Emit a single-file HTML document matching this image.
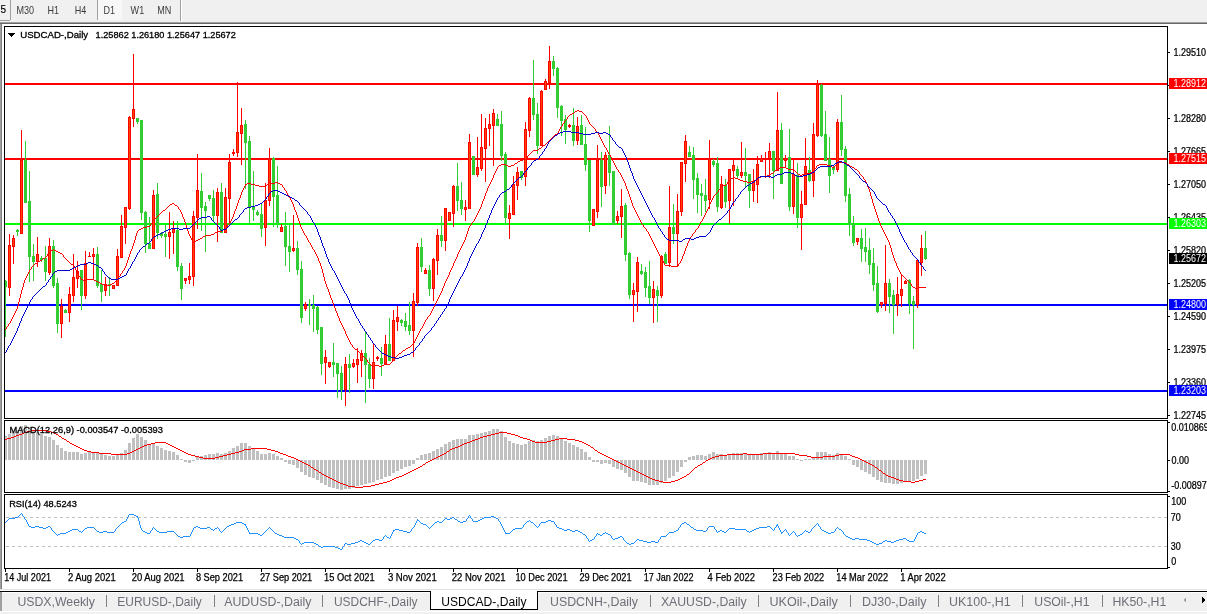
<!DOCTYPE html>
<html><head><meta charset="utf-8"><title>USDCAD-,Daily</title>
<style>html,body{margin:0;padding:0;background:#fff;overflow:hidden}svg{display:block}text{font-family:"Liberation Sans",sans-serif}</style>
</head><body>
<svg width="1207" height="614" viewBox="0 0 1207 614" shape-rendering="crispEdges">
<rect x="0" y="0" width="1207" height="614" fill="#ffffff"/>
<rect x="0" y="0" width="1207" height="22" fill="#f0f0f0"/>
<rect x="0" y="22" width="1207" height="1" fill="#a0a0a0"/>
<rect x="0" y="23" width="1207" height="1" fill="#696969"/>
<rect x="10" y="0" width="1" height="20" fill="#a0a0a0"/>
<rect x="0" y="20" width="10" height="1" fill="#a0a0a0"/>
<rect x="98" y="0" width="24" height="20" fill="#f7f7f7"/>
<rect x="97" y="0" width="1" height="20" fill="#a0a0a0"/>
<rect x="180" y="0" width="1" height="21" fill="#a0a0a0"/>
<rect x="181" y="0" width="1" height="21" fill="#ffffff"/>
<rect x="0" y="24" width="1" height="565" fill="#a0a0a0"/>
<rect x="1" y="24" width="1" height="565" fill="#808080"/>
<rect x="0" y="589" width="1207" height="1" fill="#e3e3e3"/>
<clipPath id="cm"><rect x="5" y="27" width="1162" height="391"/></clipPath>
<clipPath id="cd"><rect x="5" y="421" width="1162" height="71"/></clipPath>
<clipPath id="cr"><rect x="5" y="495" width="1162" height="73"/></clipPath>
<g clip-path="url(#cm)">
<rect x="5" y="83" width="1162" height="2" fill="#ff0000"/>
<rect x="5" y="158" width="1162" height="2" fill="#ff0000"/>
<rect x="5" y="223" width="1162" height="2" fill="#00ff00"/>
<rect x="5" y="304" width="1162" height="2" fill="#0000ff"/>
<rect x="5" y="390" width="1162" height="2" fill="#0000ff"/>
<rect x="5" y="280" width="1" height="57" fill="#32cd32"/>
<rect x="4" y="281" width="3" height="6" fill="#32cd32"/>
<rect x="9" y="234" width="1" height="62" fill="#ff0000"/>
<rect x="8" y="245" width="3" height="43" fill="#ff0000"/>
<rect x="9" y="246" width="1" height="41" fill="#ff4500"/>
<rect x="13" y="235" width="1" height="29" fill="#ff0000"/>
<rect x="12" y="238" width="3" height="9" fill="#ff0000"/>
<rect x="13" y="239" width="1" height="7" fill="#ff4500"/>
<rect x="17" y="229" width="1" height="7" fill="#32cd32"/>
<rect x="16" y="230" width="3" height="2" fill="#32cd32"/>
<rect x="21" y="130" width="1" height="104" fill="#ff0000"/>
<rect x="20" y="160" width="3" height="74" fill="#ff0000"/>
<rect x="21" y="161" width="1" height="72" fill="#ff4500"/>
<rect x="25" y="141" width="1" height="62" fill="#32cd32"/>
<rect x="24" y="160" width="3" height="43" fill="#32cd32"/>
<rect x="29" y="171" width="1" height="111" fill="#32cd32"/>
<rect x="28" y="201" width="3" height="56" fill="#32cd32"/>
<rect x="33" y="244" width="1" height="37" fill="#32cd32"/>
<rect x="32" y="256" width="3" height="6" fill="#32cd32"/>
<rect x="37" y="237" width="1" height="30" fill="#ff0000"/>
<rect x="36" y="254" width="3" height="8" fill="#ff0000"/>
<rect x="37" y="255" width="1" height="6" fill="#ff4500"/>
<rect x="41" y="256" width="1" height="6" fill="#32cd32"/>
<rect x="40" y="258" width="3" height="2" fill="#32cd32"/>
<rect x="45" y="246" width="1" height="35" fill="#32cd32"/>
<rect x="44" y="258" width="3" height="14" fill="#32cd32"/>
<rect x="49" y="238" width="1" height="37" fill="#ff0000"/>
<rect x="48" y="246" width="3" height="27" fill="#ff0000"/>
<rect x="49" y="247" width="1" height="25" fill="#ff4500"/>
<rect x="53" y="240" width="1" height="48" fill="#32cd32"/>
<rect x="52" y="246" width="3" height="40" fill="#32cd32"/>
<rect x="57" y="278" width="1" height="55" fill="#32cd32"/>
<rect x="56" y="283" width="3" height="41" fill="#32cd32"/>
<rect x="61" y="299" width="1" height="39" fill="#ff0000"/>
<rect x="60" y="306" width="3" height="18" fill="#ff0000"/>
<rect x="61" y="307" width="1" height="16" fill="#ff4500"/>
<rect x="65" y="309" width="1" height="4" fill="#32cd32"/>
<rect x="64" y="310" width="3" height="3" fill="#32cd32"/>
<rect x="69" y="287" width="1" height="35" fill="#ff0000"/>
<rect x="68" y="294" width="3" height="19" fill="#ff0000"/>
<rect x="69" y="295" width="1" height="17" fill="#ff4500"/>
<rect x="73" y="254" width="1" height="48" fill="#ff0000"/>
<rect x="72" y="277" width="3" height="19" fill="#ff0000"/>
<rect x="73" y="278" width="1" height="17" fill="#ff4500"/>
<rect x="77" y="261" width="1" height="27" fill="#ff0000"/>
<rect x="76" y="271" width="3" height="8" fill="#ff0000"/>
<rect x="77" y="272" width="1" height="6" fill="#ff4500"/>
<rect x="81" y="270" width="1" height="40" fill="#32cd32"/>
<rect x="80" y="270" width="3" height="26" fill="#32cd32"/>
<rect x="85" y="251" width="1" height="48" fill="#ff0000"/>
<rect x="84" y="263" width="3" height="33" fill="#ff0000"/>
<rect x="85" y="264" width="1" height="31" fill="#ff4500"/>
<rect x="89" y="252" width="1" height="5" fill="#ff0000"/>
<rect x="88" y="256" width="3" height="1" fill="#ff0000"/>
<rect x="93" y="248" width="1" height="32" fill="#ff0000"/>
<rect x="92" y="254" width="3" height="3" fill="#ff0000"/>
<rect x="93" y="255" width="1" height="1" fill="#ff4500"/>
<rect x="97" y="247" width="1" height="41" fill="#32cd32"/>
<rect x="96" y="254" width="3" height="32" fill="#32cd32"/>
<rect x="101" y="270" width="1" height="32" fill="#32cd32"/>
<rect x="100" y="284" width="3" height="8" fill="#32cd32"/>
<rect x="105" y="277" width="1" height="19" fill="#ff0000"/>
<rect x="104" y="284" width="3" height="7" fill="#ff0000"/>
<rect x="105" y="285" width="1" height="5" fill="#ff4500"/>
<rect x="109" y="277" width="1" height="19" fill="#32cd32"/>
<rect x="108" y="284" width="3" height="2" fill="#32cd32"/>
<rect x="113" y="285" width="1" height="4" fill="#ff0000"/>
<rect x="112" y="285" width="3" height="4" fill="#ff0000"/>
<rect x="113" y="286" width="1" height="2" fill="#ff4500"/>
<rect x="117" y="249" width="1" height="37" fill="#ff0000"/>
<rect x="116" y="256" width="3" height="30" fill="#ff0000"/>
<rect x="117" y="257" width="1" height="28" fill="#ff4500"/>
<rect x="121" y="215" width="1" height="43" fill="#ff0000"/>
<rect x="120" y="226" width="3" height="32" fill="#ff0000"/>
<rect x="121" y="227" width="1" height="30" fill="#ff4500"/>
<rect x="125" y="207" width="1" height="37" fill="#ff0000"/>
<rect x="124" y="207" width="3" height="21" fill="#ff0000"/>
<rect x="125" y="208" width="1" height="19" fill="#ff4500"/>
<rect x="129" y="116" width="1" height="94" fill="#ff0000"/>
<rect x="128" y="117" width="3" height="92" fill="#ff0000"/>
<rect x="129" y="118" width="1" height="90" fill="#ff4500"/>
<rect x="133" y="54" width="1" height="73" fill="#ff0000"/>
<rect x="132" y="109" width="3" height="10" fill="#ff0000"/>
<rect x="133" y="110" width="1" height="8" fill="#ff4500"/>
<rect x="137" y="118" width="1" height="6" fill="#32cd32"/>
<rect x="136" y="118" width="3" height="4" fill="#32cd32"/>
<rect x="141" y="120" width="1" height="100" fill="#32cd32"/>
<rect x="140" y="120" width="3" height="93" fill="#32cd32"/>
<rect x="145" y="211" width="1" height="42" fill="#32cd32"/>
<rect x="144" y="212" width="3" height="32" fill="#32cd32"/>
<rect x="149" y="217" width="1" height="32" fill="#32cd32"/>
<rect x="148" y="243" width="3" height="6" fill="#32cd32"/>
<rect x="153" y="190" width="1" height="59" fill="#ff0000"/>
<rect x="152" y="195" width="3" height="54" fill="#ff0000"/>
<rect x="153" y="196" width="1" height="52" fill="#ff4500"/>
<rect x="157" y="183" width="1" height="56" fill="#32cd32"/>
<rect x="156" y="194" width="3" height="39" fill="#32cd32"/>
<rect x="161" y="232" width="1" height="6" fill="#32cd32"/>
<rect x="160" y="233" width="3" height="3" fill="#32cd32"/>
<rect x="165" y="224" width="1" height="33" fill="#32cd32"/>
<rect x="164" y="234" width="3" height="3" fill="#32cd32"/>
<rect x="169" y="212" width="1" height="47" fill="#ff0000"/>
<rect x="168" y="232" width="3" height="5" fill="#ff0000"/>
<rect x="169" y="233" width="1" height="3" fill="#ff4500"/>
<rect x="173" y="221" width="1" height="33" fill="#ff0000"/>
<rect x="172" y="229" width="3" height="4" fill="#ff0000"/>
<rect x="173" y="230" width="1" height="2" fill="#ff4500"/>
<rect x="177" y="221" width="1" height="50" fill="#32cd32"/>
<rect x="176" y="230" width="3" height="37" fill="#32cd32"/>
<rect x="181" y="263" width="1" height="37" fill="#32cd32"/>
<rect x="180" y="266" width="3" height="23" fill="#32cd32"/>
<rect x="185" y="278" width="1" height="6" fill="#ff0000"/>
<rect x="184" y="278" width="3" height="3" fill="#ff0000"/>
<rect x="185" y="279" width="1" height="1" fill="#ff4500"/>
<rect x="189" y="263" width="1" height="21" fill="#ff0000"/>
<rect x="188" y="276" width="3" height="4" fill="#ff0000"/>
<rect x="189" y="277" width="1" height="2" fill="#ff4500"/>
<rect x="193" y="211" width="1" height="75" fill="#ff0000"/>
<rect x="192" y="216" width="3" height="61" fill="#ff0000"/>
<rect x="193" y="217" width="1" height="59" fill="#ff4500"/>
<rect x="197" y="154" width="1" height="75" fill="#ff0000"/>
<rect x="196" y="190" width="3" height="28" fill="#ff0000"/>
<rect x="197" y="191" width="1" height="26" fill="#ff4500"/>
<rect x="201" y="173" width="1" height="58" fill="#32cd32"/>
<rect x="200" y="191" width="3" height="17" fill="#32cd32"/>
<rect x="205" y="202" width="1" height="50" fill="#32cd32"/>
<rect x="204" y="206" width="3" height="5" fill="#32cd32"/>
<rect x="209" y="195" width="1" height="6" fill="#32cd32"/>
<rect x="208" y="195" width="3" height="4" fill="#32cd32"/>
<rect x="213" y="190" width="1" height="32" fill="#32cd32"/>
<rect x="212" y="198" width="3" height="18" fill="#32cd32"/>
<rect x="217" y="188" width="1" height="54" fill="#ff0000"/>
<rect x="216" y="192" width="3" height="24" fill="#ff0000"/>
<rect x="217" y="193" width="1" height="22" fill="#ff4500"/>
<rect x="221" y="183" width="1" height="50" fill="#32cd32"/>
<rect x="220" y="192" width="3" height="41" fill="#32cd32"/>
<rect x="225" y="188" width="1" height="45" fill="#ff0000"/>
<rect x="224" y="197" width="3" height="36" fill="#ff0000"/>
<rect x="225" y="198" width="1" height="34" fill="#ff4500"/>
<rect x="229" y="154" width="1" height="70" fill="#ff0000"/>
<rect x="228" y="162" width="3" height="37" fill="#ff0000"/>
<rect x="229" y="163" width="1" height="35" fill="#ff4500"/>
<rect x="233" y="149" width="1" height="7" fill="#ff0000"/>
<rect x="232" y="152" width="3" height="2" fill="#ff0000"/>
<rect x="237" y="82" width="1" height="75" fill="#ff0000"/>
<rect x="236" y="132" width="3" height="21" fill="#ff0000"/>
<rect x="237" y="133" width="1" height="19" fill="#ff4500"/>
<rect x="241" y="108" width="1" height="57" fill="#ff0000"/>
<rect x="240" y="125" width="3" height="9" fill="#ff0000"/>
<rect x="241" y="126" width="1" height="7" fill="#ff4500"/>
<rect x="245" y="120" width="1" height="69" fill="#32cd32"/>
<rect x="244" y="124" width="3" height="19" fill="#32cd32"/>
<rect x="249" y="136" width="1" height="88" fill="#32cd32"/>
<rect x="248" y="141" width="3" height="67" fill="#32cd32"/>
<rect x="253" y="171" width="1" height="50" fill="#32cd32"/>
<rect x="252" y="206" width="3" height="4" fill="#32cd32"/>
<rect x="257" y="210" width="1" height="6" fill="#32cd32"/>
<rect x="256" y="212" width="3" height="3" fill="#32cd32"/>
<rect x="261" y="203" width="1" height="34" fill="#32cd32"/>
<rect x="260" y="214" width="3" height="15" fill="#32cd32"/>
<rect x="265" y="183" width="1" height="63" fill="#ff0000"/>
<rect x="264" y="200" width="3" height="28" fill="#ff0000"/>
<rect x="265" y="201" width="1" height="26" fill="#ff4500"/>
<rect x="269" y="148" width="1" height="58" fill="#ff0000"/>
<rect x="268" y="159" width="3" height="42" fill="#ff0000"/>
<rect x="269" y="160" width="1" height="40" fill="#ff4500"/>
<rect x="273" y="157" width="1" height="70" fill="#32cd32"/>
<rect x="272" y="158" width="3" height="39" fill="#32cd32"/>
<rect x="277" y="166" width="1" height="62" fill="#32cd32"/>
<rect x="276" y="195" width="3" height="28" fill="#32cd32"/>
<rect x="281" y="224" width="1" height="8" fill="#ff0000"/>
<rect x="280" y="227" width="3" height="5" fill="#ff0000"/>
<rect x="281" y="228" width="1" height="3" fill="#ff4500"/>
<rect x="285" y="212" width="1" height="54" fill="#32cd32"/>
<rect x="284" y="226" width="3" height="21" fill="#32cd32"/>
<rect x="289" y="225" width="1" height="47" fill="#32cd32"/>
<rect x="288" y="246" width="3" height="6" fill="#32cd32"/>
<rect x="293" y="215" width="1" height="37" fill="#ff0000"/>
<rect x="292" y="248" width="3" height="3" fill="#ff0000"/>
<rect x="293" y="249" width="1" height="1" fill="#ff4500"/>
<rect x="297" y="241" width="1" height="34" fill="#32cd32"/>
<rect x="296" y="248" width="3" height="22" fill="#32cd32"/>
<rect x="301" y="261" width="1" height="62" fill="#32cd32"/>
<rect x="300" y="269" width="3" height="49" fill="#32cd32"/>
<rect x="305" y="302" width="1" height="9" fill="#ff0000"/>
<rect x="304" y="304" width="3" height="5" fill="#ff0000"/>
<rect x="305" y="305" width="1" height="3" fill="#ff4500"/>
<rect x="309" y="299" width="1" height="26" fill="#32cd32"/>
<rect x="308" y="304" width="3" height="2" fill="#32cd32"/>
<rect x="313" y="295" width="1" height="37" fill="#32cd32"/>
<rect x="312" y="305" width="3" height="4" fill="#32cd32"/>
<rect x="317" y="306" width="1" height="28" fill="#32cd32"/>
<rect x="316" y="307" width="3" height="23" fill="#32cd32"/>
<rect x="321" y="327" width="1" height="48" fill="#32cd32"/>
<rect x="320" y="327" width="3" height="37" fill="#32cd32"/>
<rect x="325" y="350" width="1" height="34" fill="#ff0000"/>
<rect x="324" y="357" width="3" height="6" fill="#ff0000"/>
<rect x="325" y="358" width="1" height="4" fill="#ff4500"/>
<rect x="329" y="362" width="1" height="6" fill="#ff0000"/>
<rect x="328" y="362" width="3" height="5" fill="#ff0000"/>
<rect x="329" y="363" width="1" height="3" fill="#ff4500"/>
<rect x="333" y="343" width="1" height="34" fill="#32cd32"/>
<rect x="332" y="362" width="3" height="3" fill="#32cd32"/>
<rect x="337" y="363" width="1" height="35" fill="#32cd32"/>
<rect x="336" y="363" width="3" height="11" fill="#32cd32"/>
<rect x="341" y="366" width="1" height="34" fill="#32cd32"/>
<rect x="340" y="373" width="3" height="17" fill="#32cd32"/>
<rect x="345" y="357" width="1" height="49" fill="#ff0000"/>
<rect x="344" y="364" width="3" height="26" fill="#ff0000"/>
<rect x="345" y="365" width="1" height="24" fill="#ff4500"/>
<rect x="349" y="354" width="1" height="39" fill="#32cd32"/>
<rect x="348" y="364" width="3" height="4" fill="#32cd32"/>
<rect x="353" y="359" width="1" height="9" fill="#ff0000"/>
<rect x="352" y="363" width="3" height="4" fill="#ff0000"/>
<rect x="353" y="364" width="1" height="2" fill="#ff4500"/>
<rect x="357" y="348" width="1" height="35" fill="#ff0000"/>
<rect x="356" y="359" width="3" height="6" fill="#ff0000"/>
<rect x="357" y="360" width="1" height="4" fill="#ff4500"/>
<rect x="361" y="350" width="1" height="27" fill="#ff0000"/>
<rect x="360" y="353" width="3" height="8" fill="#ff0000"/>
<rect x="361" y="354" width="1" height="6" fill="#ff4500"/>
<rect x="365" y="331" width="1" height="72" fill="#32cd32"/>
<rect x="364" y="353" width="3" height="12" fill="#32cd32"/>
<rect x="369" y="358" width="1" height="30" fill="#32cd32"/>
<rect x="368" y="364" width="3" height="15" fill="#32cd32"/>
<rect x="373" y="344" width="1" height="45" fill="#ff0000"/>
<rect x="372" y="362" width="3" height="17" fill="#ff0000"/>
<rect x="373" y="363" width="1" height="15" fill="#ff4500"/>
<rect x="377" y="356" width="1" height="5" fill="#ff0000"/>
<rect x="376" y="357" width="3" height="2" fill="#ff0000"/>
<rect x="381" y="347" width="1" height="29" fill="#32cd32"/>
<rect x="380" y="358" width="3" height="6" fill="#32cd32"/>
<rect x="385" y="335" width="1" height="30" fill="#ff0000"/>
<rect x="384" y="344" width="3" height="20" fill="#ff0000"/>
<rect x="385" y="345" width="1" height="18" fill="#ff4500"/>
<rect x="389" y="318" width="1" height="43" fill="#32cd32"/>
<rect x="388" y="344" width="3" height="17" fill="#32cd32"/>
<rect x="393" y="310" width="1" height="51" fill="#ff0000"/>
<rect x="392" y="320" width="3" height="41" fill="#ff0000"/>
<rect x="393" y="321" width="1" height="39" fill="#ff4500"/>
<rect x="397" y="306" width="1" height="25" fill="#ff0000"/>
<rect x="396" y="317" width="3" height="5" fill="#ff0000"/>
<rect x="397" y="318" width="1" height="3" fill="#ff4500"/>
<rect x="401" y="319" width="1" height="7" fill="#32cd32"/>
<rect x="400" y="320" width="3" height="3" fill="#32cd32"/>
<rect x="405" y="313" width="1" height="18" fill="#32cd32"/>
<rect x="404" y="321" width="3" height="6" fill="#32cd32"/>
<rect x="409" y="302" width="1" height="33" fill="#32cd32"/>
<rect x="408" y="325" width="3" height="6" fill="#32cd32"/>
<rect x="413" y="293" width="1" height="64" fill="#ff0000"/>
<rect x="412" y="301" width="3" height="30" fill="#ff0000"/>
<rect x="413" y="302" width="1" height="28" fill="#ff4500"/>
<rect x="417" y="243" width="1" height="63" fill="#ff0000"/>
<rect x="416" y="247" width="3" height="56" fill="#ff0000"/>
<rect x="417" y="248" width="1" height="54" fill="#ff4500"/>
<rect x="421" y="238" width="1" height="34" fill="#32cd32"/>
<rect x="420" y="247" width="3" height="20" fill="#32cd32"/>
<rect x="425" y="268" width="1" height="6" fill="#ff0000"/>
<rect x="424" y="270" width="3" height="4" fill="#ff0000"/>
<rect x="425" y="271" width="1" height="2" fill="#ff4500"/>
<rect x="429" y="265" width="1" height="31" fill="#32cd32"/>
<rect x="428" y="270" width="3" height="19" fill="#32cd32"/>
<rect x="433" y="258" width="1" height="43" fill="#ff0000"/>
<rect x="432" y="259" width="3" height="30" fill="#ff0000"/>
<rect x="433" y="260" width="1" height="28" fill="#ff4500"/>
<rect x="437" y="229" width="1" height="46" fill="#ff0000"/>
<rect x="436" y="235" width="3" height="26" fill="#ff0000"/>
<rect x="437" y="236" width="1" height="24" fill="#ff4500"/>
<rect x="441" y="216" width="1" height="31" fill="#32cd32"/>
<rect x="440" y="235" width="3" height="6" fill="#32cd32"/>
<rect x="445" y="208" width="1" height="43" fill="#ff0000"/>
<rect x="444" y="208" width="3" height="33" fill="#ff0000"/>
<rect x="445" y="209" width="1" height="31" fill="#ff4500"/>
<rect x="449" y="212" width="1" height="9" fill="#ff0000"/>
<rect x="448" y="212" width="3" height="9" fill="#ff0000"/>
<rect x="449" y="213" width="1" height="7" fill="#ff4500"/>
<rect x="453" y="185" width="1" height="42" fill="#ff0000"/>
<rect x="452" y="186" width="3" height="28" fill="#ff0000"/>
<rect x="453" y="187" width="1" height="26" fill="#ff4500"/>
<rect x="457" y="163" width="1" height="48" fill="#32cd32"/>
<rect x="456" y="186" width="3" height="15" fill="#32cd32"/>
<rect x="461" y="182" width="1" height="33" fill="#32cd32"/>
<rect x="460" y="200" width="3" height="9" fill="#32cd32"/>
<rect x="465" y="200" width="1" height="21" fill="#ff0000"/>
<rect x="464" y="207" width="3" height="3" fill="#ff0000"/>
<rect x="465" y="208" width="1" height="1" fill="#ff4500"/>
<rect x="469" y="134" width="1" height="75" fill="#ff0000"/>
<rect x="468" y="142" width="3" height="67" fill="#ff0000"/>
<rect x="469" y="143" width="1" height="65" fill="#ff4500"/>
<rect x="473" y="156" width="1" height="19" fill="#32cd32"/>
<rect x="472" y="156" width="3" height="19" fill="#32cd32"/>
<rect x="477" y="137" width="1" height="40" fill="#ff0000"/>
<rect x="476" y="167" width="3" height="8" fill="#ff0000"/>
<rect x="477" y="168" width="1" height="6" fill="#ff4500"/>
<rect x="481" y="114" width="1" height="57" fill="#ff0000"/>
<rect x="480" y="147" width="3" height="22" fill="#ff0000"/>
<rect x="481" y="148" width="1" height="20" fill="#ff4500"/>
<rect x="485" y="118" width="1" height="64" fill="#ff0000"/>
<rect x="484" y="128" width="3" height="21" fill="#ff0000"/>
<rect x="485" y="129" width="1" height="19" fill="#ff4500"/>
<rect x="489" y="114" width="1" height="32" fill="#ff0000"/>
<rect x="488" y="124" width="3" height="5" fill="#ff0000"/>
<rect x="489" y="125" width="1" height="3" fill="#ff4500"/>
<rect x="493" y="109" width="1" height="57" fill="#ff0000"/>
<rect x="492" y="113" width="3" height="13" fill="#ff0000"/>
<rect x="493" y="114" width="1" height="11" fill="#ff4500"/>
<rect x="497" y="114" width="1" height="12" fill="#32cd32"/>
<rect x="496" y="119" width="3" height="7" fill="#32cd32"/>
<rect x="501" y="111" width="1" height="50" fill="#32cd32"/>
<rect x="500" y="124" width="3" height="32" fill="#32cd32"/>
<rect x="505" y="152" width="1" height="72" fill="#32cd32"/>
<rect x="504" y="154" width="3" height="64" fill="#32cd32"/>
<rect x="509" y="205" width="1" height="34" fill="#ff0000"/>
<rect x="508" y="213" width="3" height="6" fill="#ff0000"/>
<rect x="509" y="214" width="1" height="4" fill="#ff4500"/>
<rect x="513" y="176" width="1" height="39" fill="#ff0000"/>
<rect x="512" y="184" width="3" height="31" fill="#ff0000"/>
<rect x="513" y="185" width="1" height="29" fill="#ff4500"/>
<rect x="517" y="167" width="1" height="33" fill="#ff0000"/>
<rect x="516" y="172" width="3" height="14" fill="#ff0000"/>
<rect x="517" y="173" width="1" height="12" fill="#ff4500"/>
<rect x="521" y="171" width="1" height="9" fill="#32cd32"/>
<rect x="520" y="171" width="3" height="7" fill="#32cd32"/>
<rect x="525" y="122" width="1" height="64" fill="#ff0000"/>
<rect x="524" y="129" width="3" height="48" fill="#ff0000"/>
<rect x="525" y="130" width="1" height="46" fill="#ff4500"/>
<rect x="529" y="97" width="1" height="40" fill="#ff0000"/>
<rect x="528" y="98" width="3" height="33" fill="#ff0000"/>
<rect x="529" y="99" width="1" height="31" fill="#ff4500"/>
<rect x="533" y="60" width="1" height="60" fill="#32cd32"/>
<rect x="532" y="98" width="3" height="17" fill="#32cd32"/>
<rect x="537" y="103" width="1" height="51" fill="#32cd32"/>
<rect x="536" y="114" width="3" height="32" fill="#32cd32"/>
<rect x="541" y="90" width="1" height="56" fill="#ff0000"/>
<rect x="540" y="91" width="3" height="55" fill="#ff0000"/>
<rect x="541" y="92" width="1" height="53" fill="#ff4500"/>
<rect x="545" y="79" width="1" height="11" fill="#ff0000"/>
<rect x="544" y="81" width="3" height="9" fill="#ff0000"/>
<rect x="545" y="82" width="1" height="7" fill="#ff4500"/>
<rect x="549" y="46" width="1" height="43" fill="#ff0000"/>
<rect x="548" y="61" width="3" height="22" fill="#ff0000"/>
<rect x="549" y="62" width="1" height="20" fill="#ff4500"/>
<rect x="553" y="56" width="1" height="20" fill="#32cd32"/>
<rect x="552" y="61" width="3" height="8" fill="#32cd32"/>
<rect x="557" y="67" width="1" height="51" fill="#32cd32"/>
<rect x="556" y="68" width="3" height="40" fill="#32cd32"/>
<rect x="561" y="105" width="1" height="31" fill="#32cd32"/>
<rect x="560" y="106" width="3" height="15" fill="#32cd32"/>
<rect x="565" y="115" width="1" height="29" fill="#32cd32"/>
<rect x="564" y="119" width="3" height="11" fill="#32cd32"/>
<rect x="569" y="124" width="1" height="4" fill="#ff0000"/>
<rect x="568" y="125" width="3" height="2" fill="#ff0000"/>
<rect x="573" y="108" width="1" height="38" fill="#32cd32"/>
<rect x="572" y="125" width="3" height="16" fill="#32cd32"/>
<rect x="577" y="117" width="1" height="28" fill="#ff0000"/>
<rect x="576" y="126" width="3" height="15" fill="#ff0000"/>
<rect x="577" y="127" width="1" height="13" fill="#ff4500"/>
<rect x="581" y="115" width="1" height="30" fill="#32cd32"/>
<rect x="580" y="125" width="3" height="20" fill="#32cd32"/>
<rect x="585" y="127" width="1" height="44" fill="#32cd32"/>
<rect x="584" y="144" width="3" height="21" fill="#32cd32"/>
<rect x="589" y="160" width="1" height="72" fill="#32cd32"/>
<rect x="588" y="160" width="3" height="61" fill="#32cd32"/>
<rect x="593" y="209" width="1" height="17" fill="#ff0000"/>
<rect x="592" y="209" width="3" height="17" fill="#ff0000"/>
<rect x="593" y="210" width="1" height="15" fill="#ff4500"/>
<rect x="597" y="145" width="1" height="73" fill="#ff0000"/>
<rect x="596" y="160" width="3" height="52" fill="#ff0000"/>
<rect x="597" y="161" width="1" height="50" fill="#ff4500"/>
<rect x="601" y="152" width="1" height="55" fill="#32cd32"/>
<rect x="600" y="160" width="3" height="27" fill="#32cd32"/>
<rect x="605" y="152" width="1" height="42" fill="#ff0000"/>
<rect x="604" y="155" width="3" height="31" fill="#ff0000"/>
<rect x="605" y="156" width="1" height="29" fill="#ff4500"/>
<rect x="609" y="126" width="1" height="60" fill="#32cd32"/>
<rect x="608" y="155" width="3" height="18" fill="#32cd32"/>
<rect x="613" y="171" width="1" height="54" fill="#32cd32"/>
<rect x="612" y="171" width="3" height="54" fill="#32cd32"/>
<rect x="617" y="211" width="1" height="13" fill="#ff0000"/>
<rect x="616" y="216" width="3" height="5" fill="#ff0000"/>
<rect x="617" y="217" width="1" height="3" fill="#ff4500"/>
<rect x="621" y="189" width="1" height="49" fill="#ff0000"/>
<rect x="620" y="206" width="3" height="11" fill="#ff0000"/>
<rect x="621" y="207" width="1" height="9" fill="#ff4500"/>
<rect x="625" y="203" width="1" height="58" fill="#32cd32"/>
<rect x="624" y="205" width="3" height="50" fill="#32cd32"/>
<rect x="629" y="252" width="1" height="47" fill="#32cd32"/>
<rect x="628" y="253" width="3" height="42" fill="#32cd32"/>
<rect x="633" y="283" width="1" height="39" fill="#ff0000"/>
<rect x="632" y="290" width="3" height="5" fill="#ff0000"/>
<rect x="633" y="291" width="1" height="3" fill="#ff4500"/>
<rect x="637" y="257" width="1" height="55" fill="#ff0000"/>
<rect x="636" y="262" width="3" height="30" fill="#ff0000"/>
<rect x="637" y="263" width="1" height="28" fill="#ff4500"/>
<rect x="641" y="264" width="1" height="11" fill="#32cd32"/>
<rect x="640" y="271" width="3" height="3" fill="#32cd32"/>
<rect x="645" y="267" width="1" height="30" fill="#32cd32"/>
<rect x="644" y="272" width="3" height="16" fill="#32cd32"/>
<rect x="649" y="261" width="1" height="43" fill="#32cd32"/>
<rect x="648" y="286" width="3" height="12" fill="#32cd32"/>
<rect x="653" y="281" width="1" height="42" fill="#ff0000"/>
<rect x="652" y="289" width="3" height="9" fill="#ff0000"/>
<rect x="653" y="290" width="1" height="7" fill="#ff4500"/>
<rect x="657" y="286" width="1" height="36" fill="#32cd32"/>
<rect x="656" y="290" width="3" height="6" fill="#32cd32"/>
<rect x="661" y="255" width="1" height="43" fill="#ff0000"/>
<rect x="660" y="256" width="3" height="40" fill="#ff0000"/>
<rect x="661" y="257" width="1" height="38" fill="#ff4500"/>
<rect x="665" y="252" width="1" height="12" fill="#32cd32"/>
<rect x="664" y="254" width="3" height="10" fill="#32cd32"/>
<rect x="669" y="186" width="1" height="81" fill="#ff0000"/>
<rect x="668" y="227" width="3" height="36" fill="#ff0000"/>
<rect x="669" y="228" width="1" height="34" fill="#ff4500"/>
<rect x="673" y="204" width="1" height="40" fill="#32cd32"/>
<rect x="672" y="227" width="3" height="7" fill="#32cd32"/>
<rect x="677" y="194" width="1" height="73" fill="#ff0000"/>
<rect x="676" y="211" width="3" height="23" fill="#ff0000"/>
<rect x="677" y="212" width="1" height="21" fill="#ff4500"/>
<rect x="681" y="162" width="1" height="54" fill="#ff0000"/>
<rect x="680" y="162" width="3" height="50" fill="#ff0000"/>
<rect x="681" y="163" width="1" height="48" fill="#ff4500"/>
<rect x="685" y="135" width="1" height="47" fill="#ff0000"/>
<rect x="684" y="141" width="3" height="23" fill="#ff0000"/>
<rect x="685" y="142" width="1" height="21" fill="#ff4500"/>
<rect x="689" y="146" width="1" height="11" fill="#32cd32"/>
<rect x="688" y="152" width="3" height="5" fill="#32cd32"/>
<rect x="693" y="147" width="1" height="52" fill="#32cd32"/>
<rect x="692" y="155" width="3" height="25" fill="#32cd32"/>
<rect x="697" y="173" width="1" height="40" fill="#32cd32"/>
<rect x="696" y="178" width="3" height="17" fill="#32cd32"/>
<rect x="701" y="184" width="1" height="32" fill="#32cd32"/>
<rect x="700" y="193" width="3" height="3" fill="#32cd32"/>
<rect x="705" y="179" width="1" height="33" fill="#32cd32"/>
<rect x="704" y="195" width="3" height="6" fill="#32cd32"/>
<rect x="709" y="140" width="1" height="69" fill="#ff0000"/>
<rect x="708" y="159" width="3" height="41" fill="#ff0000"/>
<rect x="709" y="160" width="1" height="39" fill="#ff4500"/>
<rect x="713" y="159" width="1" height="8" fill="#32cd32"/>
<rect x="712" y="161" width="3" height="4" fill="#32cd32"/>
<rect x="717" y="157" width="1" height="55" fill="#32cd32"/>
<rect x="716" y="163" width="3" height="44" fill="#32cd32"/>
<rect x="721" y="176" width="1" height="33" fill="#ff0000"/>
<rect x="720" y="184" width="3" height="24" fill="#ff0000"/>
<rect x="721" y="185" width="1" height="22" fill="#ff4500"/>
<rect x="725" y="179" width="1" height="29" fill="#32cd32"/>
<rect x="724" y="185" width="3" height="17" fill="#32cd32"/>
<rect x="729" y="169" width="1" height="55" fill="#ff0000"/>
<rect x="728" y="169" width="3" height="32" fill="#ff0000"/>
<rect x="729" y="170" width="1" height="30" fill="#ff4500"/>
<rect x="733" y="160" width="1" height="46" fill="#ff0000"/>
<rect x="732" y="165" width="3" height="6" fill="#ff0000"/>
<rect x="733" y="166" width="1" height="4" fill="#ff4500"/>
<rect x="737" y="166" width="1" height="12" fill="#32cd32"/>
<rect x="736" y="169" width="3" height="7" fill="#32cd32"/>
<rect x="741" y="142" width="1" height="36" fill="#ff0000"/>
<rect x="740" y="172" width="3" height="4" fill="#ff0000"/>
<rect x="741" y="173" width="1" height="2" fill="#ff4500"/>
<rect x="745" y="148" width="1" height="39" fill="#32cd32"/>
<rect x="744" y="172" width="3" height="4" fill="#32cd32"/>
<rect x="749" y="174" width="1" height="34" fill="#32cd32"/>
<rect x="748" y="174" width="3" height="17" fill="#32cd32"/>
<rect x="753" y="169" width="1" height="33" fill="#ff0000"/>
<rect x="752" y="182" width="3" height="9" fill="#ff0000"/>
<rect x="753" y="183" width="1" height="7" fill="#ff4500"/>
<rect x="757" y="156" width="1" height="47" fill="#ff0000"/>
<rect x="756" y="164" width="3" height="21" fill="#ff0000"/>
<rect x="757" y="165" width="1" height="19" fill="#ff4500"/>
<rect x="761" y="155" width="1" height="7" fill="#ff0000"/>
<rect x="760" y="158" width="3" height="4" fill="#ff0000"/>
<rect x="761" y="159" width="1" height="2" fill="#ff4500"/>
<rect x="765" y="152" width="1" height="26" fill="#ff0000"/>
<rect x="764" y="158" width="3" height="2" fill="#ff0000"/>
<rect x="769" y="143" width="1" height="35" fill="#ff0000"/>
<rect x="768" y="151" width="3" height="8" fill="#ff0000"/>
<rect x="769" y="152" width="1" height="6" fill="#ff4500"/>
<rect x="773" y="151" width="1" height="48" fill="#32cd32"/>
<rect x="772" y="151" width="3" height="20" fill="#32cd32"/>
<rect x="777" y="92" width="1" height="79" fill="#ff0000"/>
<rect x="776" y="130" width="3" height="41" fill="#ff0000"/>
<rect x="777" y="131" width="1" height="39" fill="#ff4500"/>
<rect x="781" y="123" width="1" height="61" fill="#32cd32"/>
<rect x="780" y="130" width="3" height="54" fill="#32cd32"/>
<rect x="785" y="155" width="1" height="13" fill="#ff0000"/>
<rect x="784" y="158" width="3" height="3" fill="#ff0000"/>
<rect x="785" y="159" width="1" height="1" fill="#ff4500"/>
<rect x="789" y="129" width="1" height="82" fill="#32cd32"/>
<rect x="788" y="157" width="3" height="50" fill="#32cd32"/>
<rect x="793" y="159" width="1" height="55" fill="#ff0000"/>
<rect x="792" y="174" width="3" height="33" fill="#ff0000"/>
<rect x="793" y="175" width="1" height="31" fill="#ff4500"/>
<rect x="797" y="163" width="1" height="65" fill="#32cd32"/>
<rect x="796" y="175" width="3" height="43" fill="#32cd32"/>
<rect x="801" y="191" width="1" height="59" fill="#ff0000"/>
<rect x="800" y="204" width="3" height="14" fill="#ff0000"/>
<rect x="801" y="205" width="1" height="12" fill="#ff4500"/>
<rect x="805" y="138" width="1" height="67" fill="#ff0000"/>
<rect x="804" y="166" width="3" height="39" fill="#ff0000"/>
<rect x="805" y="167" width="1" height="37" fill="#ff4500"/>
<rect x="809" y="157" width="1" height="25" fill="#32cd32"/>
<rect x="808" y="170" width="3" height="11" fill="#32cd32"/>
<rect x="813" y="123" width="1" height="74" fill="#ff0000"/>
<rect x="812" y="134" width="3" height="47" fill="#ff0000"/>
<rect x="813" y="135" width="1" height="45" fill="#ff4500"/>
<rect x="817" y="80" width="1" height="57" fill="#ff0000"/>
<rect x="816" y="84" width="3" height="52" fill="#ff0000"/>
<rect x="817" y="85" width="1" height="50" fill="#ff4500"/>
<rect x="821" y="84" width="1" height="53" fill="#32cd32"/>
<rect x="820" y="85" width="3" height="51" fill="#32cd32"/>
<rect x="825" y="111" width="1" height="50" fill="#32cd32"/>
<rect x="824" y="134" width="3" height="27" fill="#32cd32"/>
<rect x="829" y="137" width="1" height="56" fill="#32cd32"/>
<rect x="828" y="159" width="3" height="17" fill="#32cd32"/>
<rect x="833" y="166" width="1" height="8" fill="#32cd32"/>
<rect x="832" y="167" width="3" height="3" fill="#32cd32"/>
<rect x="837" y="119" width="1" height="53" fill="#ff0000"/>
<rect x="836" y="122" width="3" height="48" fill="#ff0000"/>
<rect x="837" y="123" width="1" height="46" fill="#ff4500"/>
<rect x="841" y="95" width="1" height="61" fill="#32cd32"/>
<rect x="840" y="122" width="3" height="28" fill="#32cd32"/>
<rect x="845" y="146" width="1" height="56" fill="#32cd32"/>
<rect x="844" y="149" width="3" height="47" fill="#32cd32"/>
<rect x="849" y="188" width="1" height="48" fill="#32cd32"/>
<rect x="848" y="194" width="3" height="31" fill="#32cd32"/>
<rect x="853" y="216" width="1" height="30" fill="#32cd32"/>
<rect x="852" y="224" width="3" height="19" fill="#32cd32"/>
<rect x="857" y="238" width="1" height="7" fill="#ff0000"/>
<rect x="856" y="238" width="3" height="4" fill="#ff0000"/>
<rect x="857" y="239" width="1" height="2" fill="#ff4500"/>
<rect x="861" y="229" width="1" height="33" fill="#32cd32"/>
<rect x="860" y="238" width="3" height="11" fill="#32cd32"/>
<rect x="865" y="228" width="1" height="34" fill="#32cd32"/>
<rect x="864" y="247" width="3" height="5" fill="#32cd32"/>
<rect x="869" y="238" width="1" height="36" fill="#32cd32"/>
<rect x="868" y="250" width="3" height="15" fill="#32cd32"/>
<rect x="873" y="248" width="1" height="43" fill="#32cd32"/>
<rect x="872" y="263" width="3" height="22" fill="#32cd32"/>
<rect x="877" y="266" width="1" height="47" fill="#32cd32"/>
<rect x="876" y="283" width="3" height="29" fill="#32cd32"/>
<rect x="881" y="302" width="1" height="6" fill="#ff0000"/>
<rect x="880" y="302" width="3" height="3" fill="#ff0000"/>
<rect x="881" y="303" width="1" height="1" fill="#ff4500"/>
<rect x="885" y="245" width="1" height="66" fill="#ff0000"/>
<rect x="884" y="283" width="3" height="21" fill="#ff0000"/>
<rect x="885" y="284" width="1" height="19" fill="#ff4500"/>
<rect x="889" y="279" width="1" height="34" fill="#32cd32"/>
<rect x="888" y="283" width="3" height="14" fill="#32cd32"/>
<rect x="893" y="290" width="1" height="44" fill="#32cd32"/>
<rect x="892" y="295" width="3" height="10" fill="#32cd32"/>
<rect x="897" y="277" width="1" height="39" fill="#ff0000"/>
<rect x="896" y="294" width="3" height="11" fill="#ff0000"/>
<rect x="897" y="295" width="1" height="9" fill="#ff4500"/>
<rect x="901" y="274" width="1" height="33" fill="#ff0000"/>
<rect x="900" y="289" width="3" height="7" fill="#ff0000"/>
<rect x="901" y="290" width="1" height="5" fill="#ff4500"/>
<rect x="905" y="280" width="1" height="4" fill="#ff0000"/>
<rect x="904" y="281" width="3" height="3" fill="#ff0000"/>
<rect x="905" y="282" width="1" height="1" fill="#ff4500"/>
<rect x="909" y="279" width="1" height="35" fill="#32cd32"/>
<rect x="908" y="280" width="3" height="24" fill="#32cd32"/>
<rect x="913" y="296" width="1" height="53" fill="#32cd32"/>
<rect x="912" y="301" width="3" height="4" fill="#32cd32"/>
<rect x="917" y="260" width="1" height="48" fill="#ff0000"/>
<rect x="916" y="260" width="3" height="45" fill="#ff0000"/>
<rect x="917" y="261" width="1" height="43" fill="#ff4500"/>
<rect x="921" y="235" width="1" height="41" fill="#ff0000"/>
<rect x="920" y="248" width="3" height="15" fill="#ff0000"/>
<rect x="921" y="249" width="1" height="13" fill="#ff4500"/>
<rect x="925" y="231" width="1" height="29" fill="#32cd32"/>
<rect x="924" y="248" width="3" height="11" fill="#32cd32"/>
<path d="M577 110h2v1h-2zM575 111h2v1h-2zM579 111h3v1h-3zM574 112h1v1h-1zM582 112h1v1h-1zM572 113h2v1h-2zM583 113h1v1h-1zM570 114h2v1h-2zM584 114h1v1h-1zM569 115h1v1h-1zM585 115h1v1h-1zM568 116h1v1h-1zM586 116h1v1h-1zM567 117h1v1h-1zM586 117h1v1h-1zM567 118h1v1h-1zM587 118h1v1h-1zM566 119h1v1h-1zM587 119h1v1h-1zM565 120h1v1h-1zM588 120h1v1h-1zM564 121h1v1h-1zM588 121h1v1h-1zM564 122h1v1h-1zM589 122h1v1h-1zM563 123h1v1h-1zM589 123h1v1h-1zM562 124h1v1h-1zM590 124h1v1h-1zM562 125h1v1h-1zM591 125h1v1h-1zM561 126h1v1h-1zM592 126h1v1h-1zM560 127h1v1h-1zM593 127h1v1h-1zM560 128h1v1h-1zM594 128h1v1h-1zM559 129h1v1h-1zM595 129h1v1h-1zM559 130h1v1h-1zM595 130h1v1h-1zM558 131h1v1h-1zM596 131h1v1h-1zM558 132h1v1h-1zM597 132h1v1h-1zM557 133h1v1h-1zM598 133h1v1h-1zM555 134h2v1h-2zM598 134h1v1h-1zM554 135h1v1h-1zM599 135h1v1h-1zM553 136h1v1h-1zM599 136h1v1h-1zM552 137h1v1h-1zM600 137h1v1h-1zM551 138h1v1h-1zM600 138h1v1h-1zM550 139h1v1h-1zM601 139h1v1h-1zM549 140h1v1h-1zM601 140h1v1h-1zM548 141h1v1h-1zM602 141h1v1h-1zM547 142h1v1h-1zM602 142h1v1h-1zM546 143h1v1h-1zM603 143h1v1h-1zM545 144h1v1h-1zM603 144h1v1h-1zM543 145h2v1h-2zM604 145h1v1h-1zM542 146h1v1h-1zM604 146h1v1h-1zM541 147h1v1h-1zM605 147h1v1h-1zM539 148h2v1h-2zM606 148h1v1h-1zM538 149h1v1h-1zM606 149h1v1h-1zM533 150h5v1h-5zM607 150h1v1h-1zM532 151h1v1h-1zM607 151h1v1h-1zM531 152h1v1h-1zM608 152h1v1h-1zM530 153h1v1h-1zM608 153h1v1h-1zM529 154h1v1h-1zM609 154h1v1h-1zM528 155h1v1h-1zM610 155h1v1h-1zM527 156h1v1h-1zM610 156h1v1h-1zM527 157h1v1h-1zM611 157h1v1h-1zM526 158h1v1h-1zM611 158h1v1h-1zM523 159h3v1h-3zM612 159h1v1h-1zM520 160h3v1h-3zM612 160h1v1h-1zM518 161h2v1h-2zM613 161h1v1h-1zM517 162h1v1h-1zM613 162h1v1h-1zM839 162h7v1h-7zM515 163h2v1h-2zM614 163h1v1h-1zM837 163h2v1h-2zM846 163h1v1h-1zM501 164h5v1h-5zM514 164h1v1h-1zM614 164h1v1h-1zM819 164h8v1h-8zM836 164h1v1h-1zM847 164h2v1h-2zM499 165h2v1h-2zM506 165h2v1h-2zM511 165h3v1h-3zM615 165h1v1h-1zM817 165h2v1h-2zM827 165h3v1h-3zM835 165h1v1h-1zM849 165h1v1h-1zM498 166h1v1h-1zM508 166h3v1h-3zM615 166h1v1h-1zM816 166h1v1h-1zM830 166h2v1h-2zM834 166h1v1h-1zM850 166h2v1h-2zM497 167h1v1h-1zM616 167h1v1h-1zM780 167h6v1h-6zM816 167h1v1h-1zM832 167h2v1h-2zM852 167h2v1h-2zM497 168h1v1h-1zM616 168h1v1h-1zM778 168h2v1h-2zM786 168h2v1h-2zM815 168h1v1h-1zM854 168h1v1h-1zM496 169h1v1h-1zM617 169h1v1h-1zM777 169h1v1h-1zM788 169h6v1h-6zM814 169h1v1h-1zM855 169h2v1h-2zM496 170h1v1h-1zM618 170h1v1h-1zM775 170h2v1h-2zM794 170h1v1h-1zM814 170h1v1h-1zM857 170h1v1h-1zM495 171h1v1h-1zM618 171h1v1h-1zM774 171h1v1h-1zM795 171h1v1h-1zM812 171h2v1h-2zM858 171h1v1h-1zM495 172h1v1h-1zM619 172h1v1h-1zM773 172h1v1h-1zM796 172h1v1h-1zM810 172h2v1h-2zM859 172h1v1h-1zM494 173h1v1h-1zM620 173h1v1h-1zM771 173h2v1h-2zM797 173h1v1h-1zM804 173h6v1h-6zM859 173h1v1h-1zM494 174h1v1h-1zM620 174h1v1h-1zM770 174h1v1h-1zM798 174h2v1h-2zM802 174h2v1h-2zM860 174h1v1h-1zM493 175h1v1h-1zM621 175h1v1h-1zM767 175h3v1h-3zM800 175h2v1h-2zM861 175h1v1h-1zM493 176h1v1h-1zM621 176h1v1h-1zM761 176h6v1h-6zM862 176h1v1h-1zM493 177h1v1h-1zM622 177h1v1h-1zM733 177h2v1h-2zM759 177h2v1h-2zM863 177h1v1h-1zM492 178h1v1h-1zM622 178h1v1h-1zM731 178h2v1h-2zM735 178h3v1h-3zM758 178h1v1h-1zM863 178h1v1h-1zM492 179h1v1h-1zM623 179h1v1h-1zM730 179h1v1h-1zM738 179h2v1h-2zM756 179h2v1h-2zM864 179h1v1h-1zM491 180h1v1h-1zM623 180h1v1h-1zM729 180h1v1h-1zM740 180h3v1h-3zM754 180h2v1h-2zM865 180h1v1h-1zM491 181h1v1h-1zM624 181h1v1h-1zM728 181h1v1h-1zM743 181h4v1h-4zM751 181h3v1h-3zM865 181h1v1h-1zM269 182h2v1h-2zM275 182h3v1h-3zM490 182h1v1h-1zM624 182h1v1h-1zM727 182h1v1h-1zM747 182h4v1h-4zM866 182h1v1h-1zM247 183h4v1h-4zM268 183h1v1h-1zM271 183h4v1h-4zM278 183h2v1h-2zM490 183h1v1h-1zM625 183h1v1h-1zM727 183h1v1h-1zM866 183h1v1h-1zM245 184h2v1h-2zM251 184h4v1h-4zM267 184h1v1h-1zM280 184h2v1h-2zM489 184h1v1h-1zM625 184h1v1h-1zM726 184h1v1h-1zM867 184h1v1h-1zM245 185h1v1h-1zM255 185h4v1h-4zM266 185h1v1h-1zM282 185h1v1h-1zM489 185h1v1h-1zM625 185h1v1h-1zM723 185h3v1h-3zM867 185h1v1h-1zM244 186h1v1h-1zM259 186h7v1h-7zM282 186h1v1h-1zM488 186h1v1h-1zM626 186h1v1h-1zM721 186h2v1h-2zM867 186h1v1h-1zM244 187h1v1h-1zM283 187h1v1h-1zM488 187h1v1h-1zM626 187h1v1h-1zM720 187h1v1h-1zM868 187h1v1h-1zM243 188h1v1h-1zM284 188h1v1h-1zM487 188h1v1h-1zM626 188h1v1h-1zM720 188h1v1h-1zM868 188h1v1h-1zM243 189h1v1h-1zM284 189h1v1h-1zM487 189h1v1h-1zM627 189h1v1h-1zM719 189h1v1h-1zM869 189h1v1h-1zM242 190h1v1h-1zM285 190h1v1h-1zM487 190h1v1h-1zM627 190h1v1h-1zM718 190h1v1h-1zM869 190h1v1h-1zM242 191h1v1h-1zM286 191h1v1h-1zM486 191h1v1h-1zM628 191h1v1h-1zM718 191h1v1h-1zM869 191h1v1h-1zM241 192h1v1h-1zM286 192h1v1h-1zM486 192h1v1h-1zM628 192h1v1h-1zM717 192h1v1h-1zM870 192h1v1h-1zM241 193h1v1h-1zM287 193h1v1h-1zM485 193h1v1h-1zM628 193h1v1h-1zM716 193h1v1h-1zM870 193h1v1h-1zM241 194h1v1h-1zM287 194h1v1h-1zM485 194h1v1h-1zM629 194h1v1h-1zM715 194h1v1h-1zM870 194h1v1h-1zM240 195h1v1h-1zM288 195h1v1h-1zM485 195h1v1h-1zM629 195h1v1h-1zM714 195h1v1h-1zM870 195h1v1h-1zM240 196h1v1h-1zM288 196h1v1h-1zM484 196h1v1h-1zM629 196h1v1h-1zM713 196h1v1h-1zM871 196h1v1h-1zM240 197h1v1h-1zM289 197h1v1h-1zM484 197h1v1h-1zM630 197h1v1h-1zM713 197h1v1h-1zM871 197h1v1h-1zM239 198h1v1h-1zM290 198h1v1h-1zM484 198h1v1h-1zM630 198h1v1h-1zM712 198h1v1h-1zM871 198h1v1h-1zM239 199h1v1h-1zM290 199h1v1h-1zM483 199h1v1h-1zM630 199h1v1h-1zM712 199h1v1h-1zM872 199h1v1h-1zM238 200h1v1h-1zM291 200h1v1h-1zM483 200h1v1h-1zM631 200h1v1h-1zM711 200h1v1h-1zM872 200h1v1h-1zM238 201h1v1h-1zM291 201h1v1h-1zM482 201h1v1h-1zM631 201h1v1h-1zM711 201h1v1h-1zM872 201h1v1h-1zM238 202h1v1h-1zM292 202h1v1h-1zM482 202h1v1h-1zM631 202h1v1h-1zM710 202h1v1h-1zM872 202h1v1h-1zM172 203h2v1h-2zM237 203h1v1h-1zM292 203h1v1h-1zM482 203h1v1h-1zM632 203h1v1h-1zM710 203h1v1h-1zM873 203h1v1h-1zM170 204h2v1h-2zM174 204h1v1h-1zM237 204h1v1h-1zM293 204h1v1h-1zM481 204h1v1h-1zM632 204h1v1h-1zM709 204h1v1h-1zM873 204h1v1h-1zM169 205h1v1h-1zM175 205h2v1h-2zM237 205h1v1h-1zM293 205h1v1h-1zM481 205h1v1h-1zM632 205h1v1h-1zM709 205h1v1h-1zM873 205h1v1h-1zM168 206h1v1h-1zM177 206h1v1h-1zM236 206h1v1h-1zM293 206h1v1h-1zM481 206h1v1h-1zM633 206h1v1h-1zM709 206h1v1h-1zM874 206h1v1h-1zM167 207h1v1h-1zM178 207h1v1h-1zM236 207h1v1h-1zM294 207h1v1h-1zM480 207h1v1h-1zM633 207h1v1h-1zM708 207h1v1h-1zM874 207h1v1h-1zM166 208h1v1h-1zM178 208h1v1h-1zM236 208h1v1h-1zM294 208h1v1h-1zM480 208h1v1h-1zM634 208h1v1h-1zM708 208h1v1h-1zM874 208h1v1h-1zM165 209h1v1h-1zM179 209h1v1h-1zM235 209h1v1h-1zM294 209h1v1h-1zM479 209h1v1h-1zM634 209h1v1h-1zM707 209h1v1h-1zM875 209h1v1h-1zM163 210h2v1h-2zM180 210h1v1h-1zM235 210h1v1h-1zM295 210h1v1h-1zM479 210h1v1h-1zM635 210h1v1h-1zM707 210h1v1h-1zM875 210h1v1h-1zM162 211h1v1h-1zM180 211h1v1h-1zM234 211h1v1h-1zM295 211h1v1h-1zM478 211h1v1h-1zM635 211h1v1h-1zM706 211h1v1h-1zM875 211h1v1h-1zM161 212h1v1h-1zM181 212h1v1h-1zM234 212h1v1h-1zM296 212h1v1h-1zM478 212h1v1h-1zM636 212h1v1h-1zM706 212h1v1h-1zM876 212h1v1h-1zM160 213h1v1h-1zM181 213h1v1h-1zM234 213h1v1h-1zM296 213h1v1h-1zM477 213h1v1h-1zM636 213h1v1h-1zM705 213h1v1h-1zM876 213h1v1h-1zM159 214h1v1h-1zM182 214h1v1h-1zM233 214h1v1h-1zM296 214h1v1h-1zM477 214h1v1h-1zM637 214h1v1h-1zM705 214h1v1h-1zM876 214h1v1h-1zM158 215h1v1h-1zM182 215h1v1h-1zM233 215h1v1h-1zM297 215h1v1h-1zM476 215h1v1h-1zM637 215h1v1h-1zM704 215h1v1h-1zM877 215h1v1h-1zM157 216h1v1h-1zM182 216h1v1h-1zM233 216h1v1h-1zM297 216h1v1h-1zM476 216h1v1h-1zM638 216h1v1h-1zM704 216h1v1h-1zM877 216h1v1h-1zM156 217h1v1h-1zM183 217h1v1h-1zM232 217h1v1h-1zM297 217h1v1h-1zM475 217h1v1h-1zM638 217h1v1h-1zM703 217h1v1h-1zM877 217h1v1h-1zM155 218h1v1h-1zM183 218h1v1h-1zM232 218h1v1h-1zM298 218h1v1h-1zM475 218h1v1h-1zM639 218h1v1h-1zM703 218h1v1h-1zM878 218h1v1h-1zM154 219h1v1h-1zM184 219h1v1h-1zM231 219h1v1h-1zM298 219h1v1h-1zM474 219h1v1h-1zM639 219h1v1h-1zM702 219h1v1h-1zM878 219h1v1h-1zM153 220h1v1h-1zM184 220h1v1h-1zM231 220h1v1h-1zM298 220h1v1h-1zM474 220h1v1h-1zM640 220h1v1h-1zM702 220h1v1h-1zM878 220h1v1h-1zM152 221h1v1h-1zM184 221h1v1h-1zM230 221h1v1h-1zM299 221h1v1h-1zM473 221h1v1h-1zM640 221h1v1h-1zM701 221h1v1h-1zM879 221h1v1h-1zM152 222h1v1h-1zM185 222h1v1h-1zM230 222h1v1h-1zM299 222h1v1h-1zM472 222h1v1h-1zM641 222h1v1h-1zM700 222h1v1h-1zM879 222h1v1h-1zM151 223h1v1h-1zM185 223h1v1h-1zM229 223h1v1h-1zM299 223h1v1h-1zM471 223h1v1h-1zM641 223h1v1h-1zM700 223h1v1h-1zM880 223h1v1h-1zM150 224h1v1h-1zM185 224h1v1h-1zM228 224h1v1h-1zM300 224h1v1h-1zM471 224h1v1h-1zM642 224h1v1h-1zM699 224h1v1h-1zM880 224h1v1h-1zM150 225h1v1h-1zM186 225h1v1h-1zM227 225h1v1h-1zM300 225h1v1h-1zM470 225h1v1h-1zM643 225h1v1h-1zM699 225h1v1h-1zM880 225h1v1h-1zM147 226h3v1h-3zM186 226h1v1h-1zM227 226h1v1h-1zM300 226h1v1h-1zM469 226h1v1h-1zM643 226h1v1h-1zM698 226h1v1h-1zM881 226h1v1h-1zM143 227h4v1h-4zM186 227h1v1h-1zM226 227h1v1h-1zM301 227h1v1h-1zM469 227h1v1h-1zM644 227h1v1h-1zM698 227h1v1h-1zM881 227h1v1h-1zM141 228h2v1h-2zM187 228h1v1h-1zM225 228h1v1h-1zM301 228h1v1h-1zM468 228h1v1h-1zM645 228h1v1h-1zM697 228h1v1h-1zM882 228h1v1h-1zM139 229h2v1h-2zM187 229h1v1h-1zM223 229h2v1h-2zM302 229h1v1h-1zM468 229h1v1h-1zM646 229h1v1h-1zM696 229h1v1h-1zM882 229h1v1h-1zM138 230h1v1h-1zM187 230h1v1h-1zM222 230h1v1h-1zM302 230h1v1h-1zM468 230h1v1h-1zM646 230h1v1h-1zM695 230h1v1h-1zM883 230h1v1h-1zM137 231h1v1h-1zM188 231h1v1h-1zM217 231h5v1h-5zM303 231h1v1h-1zM467 231h1v1h-1zM647 231h1v1h-1zM695 231h1v1h-1zM883 231h1v1h-1zM137 232h1v1h-1zM188 232h1v1h-1zM215 232h2v1h-2zM303 232h1v1h-1zM467 232h1v1h-1zM648 232h1v1h-1zM694 232h1v1h-1zM884 232h1v1h-1zM136 233h1v1h-1zM188 233h1v1h-1zM214 233h1v1h-1zM304 233h1v1h-1zM467 233h1v1h-1zM648 233h1v1h-1zM693 233h1v1h-1zM884 233h1v1h-1zM136 234h1v1h-1zM189 234h1v1h-1zM211 234h3v1h-3zM304 234h1v1h-1zM466 234h1v1h-1zM649 234h1v1h-1zM692 234h1v1h-1zM885 234h1v1h-1zM136 235h1v1h-1zM189 235h1v1h-1zM205 235h6v1h-6zM305 235h1v1h-1zM466 235h1v1h-1zM649 235h1v1h-1zM692 235h1v1h-1zM885 235h1v1h-1zM135 236h1v1h-1zM190 236h1v1h-1zM203 236h2v1h-2zM306 236h1v1h-1zM466 236h1v1h-1zM650 236h1v1h-1zM691 236h1v1h-1zM886 236h1v1h-1zM135 237h1v1h-1zM190 237h1v1h-1zM202 237h1v1h-1zM306 237h1v1h-1zM465 237h1v1h-1zM650 237h1v1h-1zM690 237h1v1h-1zM886 237h1v1h-1zM135 238h1v1h-1zM191 238h1v1h-1zM200 238h2v1h-2zM307 238h1v1h-1zM465 238h1v1h-1zM651 238h1v1h-1zM690 238h1v1h-1zM887 238h1v1h-1zM135 239h1v1h-1zM191 239h1v1h-1zM198 239h2v1h-2zM307 239h1v1h-1zM465 239h1v1h-1zM651 239h1v1h-1zM689 239h1v1h-1zM887 239h1v1h-1zM134 240h1v1h-1zM192 240h1v1h-1zM196 240h2v1h-2zM308 240h1v1h-1zM464 240h1v1h-1zM652 240h1v1h-1zM689 240h1v1h-1zM888 240h1v1h-1zM134 241h1v1h-1zM192 241h1v1h-1zM194 241h2v1h-2zM308 241h1v1h-1zM464 241h1v1h-1zM652 241h1v1h-1zM688 241h1v1h-1zM888 241h1v1h-1zM134 242h1v1h-1zM193 242h1v1h-1zM309 242h1v1h-1zM463 242h1v1h-1zM653 242h1v1h-1zM688 242h1v1h-1zM889 242h1v1h-1zM133 243h1v1h-1zM310 243h1v1h-1zM463 243h1v1h-1zM653 243h1v1h-1zM687 243h1v1h-1zM889 243h1v1h-1zM133 244h1v1h-1zM310 244h1v1h-1zM462 244h1v1h-1zM654 244h1v1h-1zM687 244h1v1h-1zM889 244h1v1h-1zM133 245h1v1h-1zM311 245h1v1h-1zM462 245h1v1h-1zM654 245h1v1h-1zM687 245h1v1h-1zM890 245h1v1h-1zM132 246h1v1h-1zM311 246h1v1h-1zM461 246h1v1h-1zM655 246h1v1h-1zM686 246h1v1h-1zM890 246h1v1h-1zM132 247h1v1h-1zM312 247h1v1h-1zM461 247h1v1h-1zM655 247h1v1h-1zM686 247h1v1h-1zM890 247h1v1h-1zM132 248h1v1h-1zM312 248h1v1h-1zM460 248h1v1h-1zM656 248h1v1h-1zM685 248h1v1h-1zM891 248h1v1h-1zM53 249h1v1h-1zM131 249h1v1h-1zM313 249h1v1h-1zM460 249h1v1h-1zM656 249h1v1h-1zM685 249h1v1h-1zM891 249h1v1h-1zM51 250h2v1h-2zM54 250h2v1h-2zM131 250h1v1h-1zM314 250h1v1h-1zM459 250h1v1h-1zM657 250h1v1h-1zM685 250h1v1h-1zM891 250h1v1h-1zM50 251h1v1h-1zM56 251h2v1h-2zM130 251h1v1h-1zM314 251h1v1h-1zM459 251h1v1h-1zM657 251h1v1h-1zM684 251h1v1h-1zM891 251h1v1h-1zM49 252h1v1h-1zM58 252h2v1h-2zM130 252h1v1h-1zM315 252h1v1h-1zM458 252h1v1h-1zM658 252h1v1h-1zM684 252h1v1h-1zM892 252h1v1h-1zM48 253h1v1h-1zM60 253h2v1h-2zM130 253h1v1h-1zM315 253h1v1h-1zM458 253h1v1h-1zM658 253h1v1h-1zM684 253h1v1h-1zM892 253h1v1h-1zM47 254h1v1h-1zM62 254h1v1h-1zM129 254h1v1h-1zM316 254h1v1h-1zM457 254h1v1h-1zM659 254h1v1h-1zM683 254h1v1h-1zM892 254h1v1h-1zM47 255h1v1h-1zM63 255h1v1h-1zM129 255h1v1h-1zM316 255h1v1h-1zM457 255h1v1h-1zM659 255h1v1h-1zM683 255h1v1h-1zM893 255h1v1h-1zM46 256h1v1h-1zM63 256h1v1h-1zM129 256h1v1h-1zM317 256h1v1h-1zM457 256h1v1h-1zM660 256h1v1h-1zM682 256h1v1h-1zM893 256h1v1h-1zM45 257h1v1h-1zM64 257h1v1h-1zM128 257h1v1h-1zM317 257h1v1h-1zM456 257h1v1h-1zM660 257h1v1h-1zM682 257h1v1h-1zM893 257h1v1h-1zM43 258h2v1h-2zM65 258h1v1h-1zM128 258h1v1h-1zM318 258h1v1h-1zM456 258h1v1h-1zM661 258h1v1h-1zM682 258h1v1h-1zM894 258h1v1h-1zM42 259h1v1h-1zM66 259h1v1h-1zM128 259h1v1h-1zM318 259h1v1h-1zM455 259h1v1h-1zM662 259h1v1h-1zM681 259h1v1h-1zM894 259h1v1h-1zM40 260h2v1h-2zM67 260h1v1h-1zM127 260h1v1h-1zM318 260h1v1h-1zM455 260h1v1h-1zM662 260h1v1h-1zM681 260h1v1h-1zM894 260h1v1h-1zM38 261h2v1h-2zM68 261h1v1h-1zM127 261h1v1h-1zM319 261h1v1h-1zM454 261h1v1h-1zM663 261h1v1h-1zM680 261h1v1h-1zM895 261h1v1h-1zM37 262h1v1h-1zM69 262h1v1h-1zM127 262h1v1h-1zM319 262h1v1h-1zM454 262h1v1h-1zM663 262h1v1h-1zM680 262h1v1h-1zM895 262h1v1h-1zM35 263h2v1h-2zM70 263h1v1h-1zM126 263h1v1h-1zM320 263h1v1h-1zM453 263h1v1h-1zM664 263h1v1h-1zM679 263h1v1h-1zM896 263h1v1h-1zM34 264h1v1h-1zM71 264h2v1h-2zM126 264h1v1h-1zM320 264h1v1h-1zM453 264h1v1h-1zM664 264h1v1h-1zM678 264h1v1h-1zM896 264h1v1h-1zM33 265h1v1h-1zM73 265h1v1h-1zM126 265h1v1h-1zM320 265h1v1h-1zM453 265h1v1h-1zM665 265h6v1h-6zM678 265h1v1h-1zM896 265h1v1h-1zM32 266h1v1h-1zM74 266h1v1h-1zM125 266h1v1h-1zM321 266h1v1h-1zM452 266h1v1h-1zM671 266h7v1h-7zM897 266h1v1h-1zM31 267h1v1h-1zM74 267h1v1h-1zM125 267h1v1h-1zM321 267h1v1h-1zM452 267h1v1h-1zM897 267h1v1h-1zM31 268h1v1h-1zM75 268h1v1h-1zM124 268h1v1h-1zM321 268h1v1h-1zM451 268h1v1h-1zM898 268h1v1h-1zM30 269h1v1h-1zM75 269h1v1h-1zM124 269h1v1h-1zM322 269h1v1h-1zM451 269h1v1h-1zM898 269h1v1h-1zM29 270h1v1h-1zM76 270h1v1h-1zM123 270h1v1h-1zM322 270h1v1h-1zM450 270h1v1h-1zM899 270h1v1h-1zM29 271h1v1h-1zM76 271h1v1h-1zM122 271h1v1h-1zM322 271h1v1h-1zM450 271h1v1h-1zM899 271h1v1h-1zM28 272h1v1h-1zM77 272h1v1h-1zM122 272h1v1h-1zM322 272h1v1h-1zM449 272h1v1h-1zM900 272h1v1h-1zM28 273h1v1h-1zM77 273h1v1h-1zM121 273h1v1h-1zM323 273h1v1h-1zM449 273h1v1h-1zM900 273h1v1h-1zM27 274h1v1h-1zM78 274h1v1h-1zM120 274h1v1h-1zM323 274h1v1h-1zM449 274h1v1h-1zM901 274h1v1h-1zM27 275h1v1h-1zM78 275h1v1h-1zM120 275h1v1h-1zM323 275h1v1h-1zM448 275h1v1h-1zM902 275h1v1h-1zM26 276h1v1h-1zM79 276h1v1h-1zM119 276h1v1h-1zM323 276h1v1h-1zM448 276h1v1h-1zM903 276h1v1h-1zM26 277h1v1h-1zM80 277h1v1h-1zM118 277h1v1h-1zM324 277h1v1h-1zM447 277h1v1h-1zM904 277h1v1h-1zM25 278h1v1h-1zM80 278h1v1h-1zM118 278h1v1h-1zM324 278h1v1h-1zM447 278h1v1h-1zM905 278h1v1h-1zM25 279h1v1h-1zM81 279h2v1h-2zM87 279h7v1h-7zM117 279h1v1h-1zM324 279h1v1h-1zM446 279h1v1h-1zM906 279h1v1h-1zM24 280h1v1h-1zM83 280h4v1h-4zM94 280h2v1h-2zM116 280h1v1h-1zM324 280h1v1h-1zM446 280h1v1h-1zM907 280h1v1h-1zM24 281h1v1h-1zM96 281h2v1h-2zM115 281h1v1h-1zM325 281h1v1h-1zM445 281h1v1h-1zM908 281h1v1h-1zM24 282h1v1h-1zM98 282h2v1h-2zM114 282h1v1h-1zM325 282h1v1h-1zM445 282h1v1h-1zM909 282h1v1h-1zM23 283h1v1h-1zM100 283h2v1h-2zM112 283h2v1h-2zM325 283h1v1h-1zM444 283h1v1h-1zM910 283h1v1h-1zM23 284h1v1h-1zM102 284h2v1h-2zM110 284h2v1h-2zM326 284h1v1h-1zM444 284h1v1h-1zM911 284h1v1h-1zM23 285h1v1h-1zM104 285h6v1h-6zM326 285h1v1h-1zM444 285h1v1h-1zM911 285h1v1h-1zM23 286h1v1h-1zM326 286h1v1h-1zM443 286h1v1h-1zM912 286h1v1h-1zM22 287h1v1h-1zM327 287h1v1h-1zM443 287h1v1h-1zM913 287h2v1h-2zM919 287h7v1h-7zM22 288h1v1h-1zM327 288h1v1h-1zM442 288h1v1h-1zM915 288h4v1h-4zM22 289h1v1h-1zM328 289h1v1h-1zM442 289h1v1h-1zM21 290h1v1h-1zM328 290h1v1h-1zM442 290h1v1h-1zM21 291h1v1h-1zM328 291h1v1h-1zM441 291h1v1h-1zM21 292h1v1h-1zM329 292h1v1h-1zM441 292h1v1h-1zM21 293h1v1h-1zM329 293h1v1h-1zM440 293h1v1h-1zM20 294h1v1h-1zM329 294h1v1h-1zM440 294h1v1h-1zM20 295h1v1h-1zM330 295h1v1h-1zM439 295h1v1h-1zM20 296h1v1h-1zM330 296h1v1h-1zM439 296h1v1h-1zM20 297h1v1h-1zM330 297h1v1h-1zM438 297h1v1h-1zM19 298h1v1h-1zM331 298h1v1h-1zM438 298h1v1h-1zM19 299h1v1h-1zM331 299h1v1h-1zM437 299h1v1h-1zM19 300h1v1h-1zM332 300h1v1h-1zM437 300h1v1h-1zM19 301h1v1h-1zM332 301h1v1h-1zM436 301h1v1h-1zM18 302h1v1h-1zM332 302h1v1h-1zM436 302h1v1h-1zM18 303h1v1h-1zM333 303h1v1h-1zM435 303h1v1h-1zM18 304h1v1h-1zM333 304h1v1h-1zM435 304h1v1h-1zM18 305h1v1h-1zM333 305h1v1h-1zM434 305h1v1h-1zM17 306h1v1h-1zM334 306h1v1h-1zM434 306h1v1h-1zM17 307h1v1h-1zM334 307h1v1h-1zM433 307h1v1h-1zM17 308h1v1h-1zM335 308h1v1h-1zM433 308h1v1h-1zM16 309h1v1h-1zM335 309h1v1h-1zM432 309h1v1h-1zM16 310h1v1h-1zM335 310h1v1h-1zM432 310h1v1h-1zM15 311h1v1h-1zM336 311h1v1h-1zM431 311h1v1h-1zM15 312h1v1h-1zM336 312h1v1h-1zM431 312h1v1h-1zM14 313h1v1h-1zM337 313h1v1h-1zM430 313h1v1h-1zM14 314h1v1h-1zM337 314h1v1h-1zM430 314h1v1h-1zM13 315h1v1h-1zM337 315h1v1h-1zM429 315h1v1h-1zM13 316h1v1h-1zM338 316h1v1h-1zM428 316h1v1h-1zM12 317h1v1h-1zM338 317h1v1h-1zM427 317h1v1h-1zM12 318h1v1h-1zM339 318h1v1h-1zM427 318h1v1h-1zM11 319h1v1h-1zM339 319h1v1h-1zM426 319h1v1h-1zM11 320h1v1h-1zM339 320h1v1h-1zM425 320h1v1h-1zM10 321h1v1h-1zM340 321h1v1h-1zM425 321h1v1h-1zM10 322h1v1h-1zM340 322h1v1h-1zM424 322h1v1h-1zM9 323h1v1h-1zM341 323h1v1h-1zM424 323h1v1h-1zM8 324h1v1h-1zM341 324h1v1h-1zM423 324h1v1h-1zM8 325h1v1h-1zM342 325h1v1h-1zM423 325h1v1h-1zM7 326h1v1h-1zM342 326h1v1h-1zM422 326h1v1h-1zM6 327h1v1h-1zM343 327h1v1h-1zM422 327h1v1h-1zM6 328h1v1h-1zM343 328h1v1h-1zM421 328h1v1h-1zM5 329h1v1h-1zM344 329h1v1h-1zM420 329h1v1h-1zM344 330h1v1h-1zM420 330h1v1h-1zM345 331h1v1h-1zM419 331h1v1h-1zM345 332h1v1h-1zM419 332h1v1h-1zM345 333h1v1h-1zM418 333h1v1h-1zM346 334h1v1h-1zM418 334h1v1h-1zM346 335h1v1h-1zM417 335h1v1h-1zM347 336h1v1h-1zM417 336h1v1h-1zM347 337h1v1h-1zM416 337h1v1h-1zM348 338h1v1h-1zM416 338h1v1h-1zM348 339h1v1h-1zM415 339h1v1h-1zM349 340h1v1h-1zM415 340h1v1h-1zM349 341h1v1h-1zM414 341h1v1h-1zM350 342h1v1h-1zM414 342h1v1h-1zM350 343h1v1h-1zM413 343h1v1h-1zM351 344h1v1h-1zM412 344h1v1h-1zM352 345h1v1h-1zM411 345h1v1h-1zM352 346h1v1h-1zM410 346h1v1h-1zM353 347h1v1h-1zM408 347h2v1h-2zM354 348h1v1h-1zM406 348h2v1h-2zM355 349h2v1h-2zM405 349h1v1h-1zM357 350h1v1h-1zM403 350h2v1h-2zM358 351h1v1h-1zM402 351h1v1h-1zM359 352h1v1h-1zM401 352h1v1h-1zM360 353h1v1h-1zM399 353h2v1h-2zM361 354h1v1h-1zM398 354h1v1h-1zM362 355h1v1h-1zM397 355h1v1h-1zM363 356h1v1h-1zM396 356h1v1h-1zM364 357h1v1h-1zM395 357h1v1h-1zM365 358h1v1h-1zM395 358h1v1h-1zM366 359h1v1h-1zM394 359h1v1h-1zM367 360h1v1h-1zM393 360h1v1h-1zM367 361h1v1h-1zM392 361h1v1h-1zM368 362h1v1h-1zM391 362h1v1h-1zM369 363h1v1h-1zM390 363h1v1h-1zM370 364h1v1h-1zM384 364h6v1h-6zM371 365h2v1h-2zM375 365h4v1h-4zM382 365h2v1h-2zM373 366h2v1h-2zM379 366h3v1h-3z" fill="#ff0000"/>
<path d="M563 131h8v1h-8zM560 132h3v1h-3zM571 132h8v1h-8zM595 132h4v1h-4zM603 132h3v1h-3zM558 133h2v1h-2zM579 133h4v1h-4zM591 133h4v1h-4zM599 133h4v1h-4zM606 133h2v1h-2zM557 134h1v1h-1zM583 134h8v1h-8zM608 134h2v1h-2zM555 135h2v1h-2zM610 135h1v1h-1zM554 136h1v1h-1zM610 136h1v1h-1zM553 137h1v1h-1zM611 137h1v1h-1zM552 138h1v1h-1zM612 138h1v1h-1zM551 139h1v1h-1zM612 139h1v1h-1zM550 140h1v1h-1zM613 140h1v1h-1zM549 141h1v1h-1zM614 141h1v1h-1zM548 142h1v1h-1zM615 142h1v1h-1zM548 143h1v1h-1zM615 143h1v1h-1zM547 144h1v1h-1zM616 144h1v1h-1zM547 145h1v1h-1zM617 145h1v1h-1zM546 146h1v1h-1zM618 146h1v1h-1zM546 147h1v1h-1zM619 147h2v1h-2zM545 148h1v1h-1zM621 148h1v1h-1zM544 149h1v1h-1zM622 149h1v1h-1zM544 150h1v1h-1zM622 150h1v1h-1zM543 151h1v1h-1zM623 151h1v1h-1zM542 152h1v1h-1zM623 152h1v1h-1zM542 153h1v1h-1zM624 153h1v1h-1zM541 154h1v1h-1zM624 154h1v1h-1zM540 155h1v1h-1zM625 155h1v1h-1zM539 156h1v1h-1zM625 156h1v1h-1zM539 157h1v1h-1zM626 157h1v1h-1zM538 158h1v1h-1zM626 158h1v1h-1zM536 159h2v1h-2zM626 159h1v1h-1zM534 160h2v1h-2zM627 160h1v1h-1zM533 161h1v1h-1zM627 161h1v1h-1zM839 161h3v1h-3zM532 162h1v1h-1zM628 162h1v1h-1zM837 162h2v1h-2zM842 162h2v1h-2zM531 163h1v1h-1zM628 163h1v1h-1zM835 163h2v1h-2zM844 163h2v1h-2zM531 164h1v1h-1zM628 164h1v1h-1zM834 164h1v1h-1zM846 164h1v1h-1zM530 165h1v1h-1zM629 165h1v1h-1zM831 165h3v1h-3zM847 165h2v1h-2zM529 166h1v1h-1zM629 166h1v1h-1zM820 166h11v1h-11zM849 166h1v1h-1zM528 167h1v1h-1zM629 167h1v1h-1zM818 167h2v1h-2zM850 167h1v1h-1zM527 168h1v1h-1zM630 168h1v1h-1zM817 168h1v1h-1zM851 168h1v1h-1zM527 169h1v1h-1zM630 169h1v1h-1zM816 169h1v1h-1zM852 169h1v1h-1zM526 170h1v1h-1zM630 170h1v1h-1zM815 170h1v1h-1zM853 170h1v1h-1zM525 171h1v1h-1zM631 171h1v1h-1zM814 171h1v1h-1zM854 171h1v1h-1zM524 172h1v1h-1zM631 172h1v1h-1zM784 172h7v1h-7zM812 172h2v1h-2zM855 172h1v1h-1zM523 173h1v1h-1zM632 173h1v1h-1zM782 173h2v1h-2zM791 173h3v1h-3zM810 173h2v1h-2zM856 173h1v1h-1zM523 174h1v1h-1zM632 174h1v1h-1zM777 174h5v1h-5zM794 174h1v1h-1zM807 174h3v1h-3zM857 174h1v1h-1zM522 175h1v1h-1zM632 175h1v1h-1zM775 175h2v1h-2zM795 175h2v1h-2zM803 175h4v1h-4zM858 175h1v1h-1zM521 176h1v1h-1zM633 176h1v1h-1zM760 176h11v1h-11zM774 176h1v1h-1zM797 176h6v1h-6zM859 176h1v1h-1zM519 177h2v1h-2zM633 177h1v1h-1zM758 177h2v1h-2zM771 177h3v1h-3zM859 177h1v1h-1zM518 178h1v1h-1zM633 178h1v1h-1zM757 178h1v1h-1zM860 178h1v1h-1zM517 179h1v1h-1zM634 179h1v1h-1zM756 179h1v1h-1zM861 179h1v1h-1zM516 180h1v1h-1zM634 180h1v1h-1zM755 180h1v1h-1zM862 180h1v1h-1zM515 181h1v1h-1zM635 181h1v1h-1zM754 181h1v1h-1zM863 181h2v1h-2zM514 182h1v1h-1zM635 182h1v1h-1zM752 182h2v1h-2zM865 182h1v1h-1zM513 183h1v1h-1zM636 183h1v1h-1zM750 183h2v1h-2zM866 183h1v1h-1zM512 184h1v1h-1zM636 184h1v1h-1zM749 184h1v1h-1zM867 184h1v1h-1zM511 185h1v1h-1zM637 185h1v1h-1zM747 185h2v1h-2zM867 185h1v1h-1zM511 186h1v1h-1zM637 186h1v1h-1zM746 186h1v1h-1zM868 186h1v1h-1zM510 187h1v1h-1zM638 187h1v1h-1zM745 187h1v1h-1zM869 187h1v1h-1zM509 188h1v1h-1zM638 188h1v1h-1zM744 188h1v1h-1zM870 188h1v1h-1zM507 189h2v1h-2zM639 189h1v1h-1zM743 189h1v1h-1zM871 189h1v1h-1zM273 190h5v1h-5zM506 190h1v1h-1zM639 190h1v1h-1zM742 190h1v1h-1zM872 190h1v1h-1zM271 191h2v1h-2zM278 191h2v1h-2zM504 191h2v1h-2zM640 191h1v1h-1zM741 191h1v1h-1zM873 191h1v1h-1zM270 192h1v1h-1zM280 192h2v1h-2zM502 192h2v1h-2zM640 192h1v1h-1zM740 192h1v1h-1zM874 192h1v1h-1zM269 193h1v1h-1zM282 193h2v1h-2zM501 193h1v1h-1zM641 193h1v1h-1zM740 193h1v1h-1zM874 193h1v1h-1zM268 194h1v1h-1zM284 194h2v1h-2zM500 194h1v1h-1zM641 194h1v1h-1zM739 194h1v1h-1zM875 194h1v1h-1zM268 195h1v1h-1zM286 195h2v1h-2zM499 195h1v1h-1zM642 195h1v1h-1zM738 195h1v1h-1zM875 195h1v1h-1zM267 196h1v1h-1zM288 196h2v1h-2zM499 196h1v1h-1zM642 196h1v1h-1zM738 196h1v1h-1zM876 196h1v1h-1zM266 197h1v1h-1zM290 197h2v1h-2zM498 197h1v1h-1zM643 197h1v1h-1zM737 197h1v1h-1zM876 197h1v1h-1zM266 198h1v1h-1zM292 198h2v1h-2zM497 198h1v1h-1zM643 198h1v1h-1zM736 198h1v1h-1zM877 198h1v1h-1zM265 199h1v1h-1zM294 199h1v1h-1zM497 199h1v1h-1zM644 199h1v1h-1zM735 199h1v1h-1zM878 199h1v1h-1zM264 200h1v1h-1zM295 200h2v1h-2zM496 200h1v1h-1zM644 200h1v1h-1zM735 200h1v1h-1zM879 200h1v1h-1zM263 201h1v1h-1zM297 201h1v1h-1zM496 201h1v1h-1zM645 201h1v1h-1zM734 201h1v1h-1zM880 201h1v1h-1zM262 202h1v1h-1zM298 202h1v1h-1zM495 202h1v1h-1zM645 202h1v1h-1zM733 202h1v1h-1zM881 202h1v1h-1zM260 203h2v1h-2zM299 203h1v1h-1zM495 203h1v1h-1zM646 203h1v1h-1zM732 203h1v1h-1zM882 203h1v1h-1zM258 204h2v1h-2zM299 204h1v1h-1zM494 204h1v1h-1zM646 204h1v1h-1zM732 204h1v1h-1zM883 204h2v1h-2zM255 205h3v1h-3zM300 205h1v1h-1zM494 205h1v1h-1zM647 205h1v1h-1zM731 205h1v1h-1zM885 205h1v1h-1zM251 206h4v1h-4zM301 206h1v1h-1zM493 206h1v1h-1zM647 206h1v1h-1zM731 206h1v1h-1zM886 206h1v1h-1zM247 207h4v1h-4zM302 207h1v1h-1zM493 207h1v1h-1zM648 207h1v1h-1zM730 207h1v1h-1zM886 207h1v1h-1zM245 208h2v1h-2zM303 208h1v1h-1zM492 208h1v1h-1zM648 208h1v1h-1zM730 208h1v1h-1zM887 208h1v1h-1zM244 209h1v1h-1zM304 209h1v1h-1zM492 209h1v1h-1zM649 209h1v1h-1zM729 209h1v1h-1zM887 209h1v1h-1zM243 210h1v1h-1zM305 210h1v1h-1zM491 210h1v1h-1zM649 210h1v1h-1zM728 210h1v1h-1zM888 210h1v1h-1zM243 211h1v1h-1zM306 211h1v1h-1zM491 211h1v1h-1zM650 211h1v1h-1zM727 211h1v1h-1zM888 211h1v1h-1zM242 212h1v1h-1zM307 212h1v1h-1zM491 212h1v1h-1zM650 212h1v1h-1zM727 212h1v1h-1zM889 212h1v1h-1zM241 213h1v1h-1zM307 213h1v1h-1zM490 213h1v1h-1zM651 213h1v1h-1zM726 213h1v1h-1zM890 213h1v1h-1zM240 214h1v1h-1zM308 214h1v1h-1zM490 214h1v1h-1zM651 214h1v1h-1zM725 214h1v1h-1zM890 214h1v1h-1zM239 215h1v1h-1zM309 215h1v1h-1zM489 215h1v1h-1zM652 215h1v1h-1zM724 215h1v1h-1zM891 215h1v1h-1zM207 216h3v1h-3zM239 216h1v1h-1zM310 216h1v1h-1zM489 216h1v1h-1zM652 216h1v1h-1zM723 216h1v1h-1zM892 216h1v1h-1zM201 217h6v1h-6zM210 217h1v1h-1zM238 217h1v1h-1zM310 217h1v1h-1zM489 217h1v1h-1zM653 217h1v1h-1zM722 217h1v1h-1zM892 217h1v1h-1zM199 218h2v1h-2zM211 218h1v1h-1zM237 218h1v1h-1zM311 218h1v1h-1zM488 218h1v1h-1zM654 218h1v1h-1zM721 218h1v1h-1zM893 218h1v1h-1zM198 219h1v1h-1zM211 219h1v1h-1zM235 219h2v1h-2zM311 219h1v1h-1zM488 219h1v1h-1zM654 219h1v1h-1zM719 219h2v1h-2zM894 219h1v1h-1zM197 220h1v1h-1zM212 220h1v1h-1zM234 220h1v1h-1zM312 220h1v1h-1zM487 220h1v1h-1zM655 220h1v1h-1zM718 220h1v1h-1zM894 220h1v1h-1zM196 221h1v1h-1zM213 221h1v1h-1zM233 221h1v1h-1zM312 221h1v1h-1zM487 221h1v1h-1zM655 221h1v1h-1zM717 221h1v1h-1zM895 221h1v1h-1zM195 222h1v1h-1zM214 222h1v1h-1zM232 222h1v1h-1zM313 222h1v1h-1zM487 222h1v1h-1zM656 222h1v1h-1zM716 222h1v1h-1zM895 222h1v1h-1zM194 223h1v1h-1zM215 223h1v1h-1zM231 223h1v1h-1zM314 223h1v1h-1zM486 223h1v1h-1zM656 223h1v1h-1zM715 223h1v1h-1zM896 223h1v1h-1zM193 224h1v1h-1zM216 224h1v1h-1zM230 224h1v1h-1zM314 224h1v1h-1zM486 224h1v1h-1zM657 224h1v1h-1zM714 224h1v1h-1zM896 224h1v1h-1zM192 225h1v1h-1zM217 225h1v1h-1zM229 225h1v1h-1zM315 225h1v1h-1zM485 225h1v1h-1zM657 225h1v1h-1zM713 225h1v1h-1zM897 225h1v1h-1zM191 226h1v1h-1zM218 226h1v1h-1zM228 226h1v1h-1zM315 226h1v1h-1zM485 226h1v1h-1zM658 226h1v1h-1zM712 226h1v1h-1zM897 226h1v1h-1zM190 227h1v1h-1zM219 227h1v1h-1zM227 227h1v1h-1zM316 227h1v1h-1zM485 227h1v1h-1zM658 227h1v1h-1zM712 227h1v1h-1zM898 227h1v1h-1zM171 228h8v1h-8zM183 228h7v1h-7zM219 228h1v1h-1zM226 228h1v1h-1zM316 228h1v1h-1zM484 228h1v1h-1zM659 228h1v1h-1zM711 228h1v1h-1zM898 228h1v1h-1zM168 229h3v1h-3zM179 229h4v1h-4zM220 229h1v1h-1zM223 229h3v1h-3zM317 229h1v1h-1zM484 229h1v1h-1zM660 229h1v1h-1zM711 229h1v1h-1zM899 229h1v1h-1zM166 230h2v1h-2zM221 230h2v1h-2zM317 230h1v1h-1zM483 230h1v1h-1zM660 230h1v1h-1zM710 230h1v1h-1zM899 230h1v1h-1zM164 231h2v1h-2zM317 231h1v1h-1zM483 231h1v1h-1zM661 231h1v1h-1zM710 231h1v1h-1zM899 231h1v1h-1zM162 232h2v1h-2zM318 232h1v1h-1zM482 232h1v1h-1zM662 232h1v1h-1zM709 232h1v1h-1zM900 232h1v1h-1zM160 233h2v1h-2zM318 233h1v1h-1zM482 233h1v1h-1zM662 233h1v1h-1zM708 233h1v1h-1zM900 233h1v1h-1zM158 234h2v1h-2zM318 234h1v1h-1zM481 234h1v1h-1zM663 234h1v1h-1zM707 234h1v1h-1zM901 234h1v1h-1zM156 235h2v1h-2zM319 235h1v1h-1zM481 235h1v1h-1zM664 235h1v1h-1zM706 235h1v1h-1zM901 235h1v1h-1zM154 236h2v1h-2zM319 236h1v1h-1zM481 236h1v1h-1zM664 236h1v1h-1zM699 236h7v1h-7zM902 236h1v1h-1zM153 237h1v1h-1zM320 237h1v1h-1zM480 237h1v1h-1zM665 237h1v1h-1zM696 237h3v1h-3zM902 237h1v1h-1zM152 238h1v1h-1zM320 238h1v1h-1zM480 238h1v1h-1zM666 238h1v1h-1zM685 238h6v1h-6zM694 238h2v1h-2zM903 238h1v1h-1zM151 239h1v1h-1zM320 239h1v1h-1zM479 239h1v1h-1zM667 239h2v1h-2zM683 239h2v1h-2zM691 239h3v1h-3zM903 239h1v1h-1zM151 240h1v1h-1zM321 240h1v1h-1zM479 240h1v1h-1zM669 240h10v1h-10zM682 240h1v1h-1zM904 240h1v1h-1zM150 241h1v1h-1zM321 241h1v1h-1zM478 241h1v1h-1zM679 241h3v1h-3zM904 241h1v1h-1zM149 242h1v1h-1zM321 242h1v1h-1zM478 242h1v1h-1zM905 242h1v1h-1zM147 243h2v1h-2zM322 243h1v1h-1zM477 243h1v1h-1zM906 243h1v1h-1zM146 244h1v1h-1zM322 244h1v1h-1zM476 244h1v1h-1zM906 244h1v1h-1zM145 245h1v1h-1zM322 245h1v1h-1zM476 245h1v1h-1zM907 245h1v1h-1zM143 246h2v1h-2zM323 246h1v1h-1zM475 246h1v1h-1zM907 246h1v1h-1zM142 247h1v1h-1zM323 247h1v1h-1zM475 247h1v1h-1zM908 247h1v1h-1zM141 248h1v1h-1zM324 248h1v1h-1zM474 248h1v1h-1zM908 248h1v1h-1zM140 249h1v1h-1zM324 249h1v1h-1zM474 249h1v1h-1zM909 249h1v1h-1zM139 250h1v1h-1zM324 250h1v1h-1zM473 250h1v1h-1zM910 250h1v1h-1zM139 251h1v1h-1zM325 251h1v1h-1zM473 251h1v1h-1zM910 251h1v1h-1zM138 252h1v1h-1zM325 252h1v1h-1zM472 252h1v1h-1zM911 252h1v1h-1zM137 253h1v1h-1zM325 253h1v1h-1zM472 253h1v1h-1zM912 253h1v1h-1zM137 254h1v1h-1zM326 254h1v1h-1zM471 254h1v1h-1zM912 254h1v1h-1zM136 255h1v1h-1zM326 255h1v1h-1zM471 255h1v1h-1zM913 255h1v1h-1zM136 256h1v1h-1zM326 256h1v1h-1zM470 256h1v1h-1zM914 256h1v1h-1zM135 257h1v1h-1zM327 257h1v1h-1zM470 257h1v1h-1zM915 257h1v1h-1zM135 258h1v1h-1zM327 258h1v1h-1zM469 258h1v1h-1zM916 258h1v1h-1zM134 259h1v1h-1zM328 259h1v1h-1zM469 259h1v1h-1zM917 259h1v1h-1zM134 260h1v1h-1zM328 260h1v1h-1zM469 260h1v1h-1zM918 260h1v1h-1zM133 261h1v1h-1zM328 261h1v1h-1zM468 261h1v1h-1zM918 261h1v1h-1zM88 262h3v1h-3zM132 262h1v1h-1zM329 262h1v1h-1zM468 262h1v1h-1zM919 262h1v1h-1zM86 263h2v1h-2zM91 263h3v1h-3zM132 263h1v1h-1zM329 263h1v1h-1zM467 263h1v1h-1zM920 263h1v1h-1zM80 264h6v1h-6zM94 264h2v1h-2zM131 264h1v1h-1zM330 264h1v1h-1zM467 264h1v1h-1zM920 264h1v1h-1zM78 265h2v1h-2zM96 265h2v1h-2zM131 265h1v1h-1zM330 265h1v1h-1zM467 265h1v1h-1zM921 265h1v1h-1zM76 266h2v1h-2zM98 266h1v1h-1zM130 266h1v1h-1zM331 266h1v1h-1zM466 266h1v1h-1zM922 266h1v1h-1zM74 267h2v1h-2zM99 267h2v1h-2zM130 267h1v1h-1zM331 267h1v1h-1zM466 267h1v1h-1zM923 267h1v1h-1zM72 268h2v1h-2zM101 268h1v1h-1zM129 268h1v1h-1zM332 268h1v1h-1zM465 268h1v1h-1zM923 268h1v1h-1zM70 269h2v1h-2zM102 269h1v1h-1zM128 269h1v1h-1zM332 269h1v1h-1zM465 269h1v1h-1zM924 269h1v1h-1zM57 270h13v1h-13zM102 270h1v1h-1zM128 270h1v1h-1zM333 270h1v1h-1zM464 270h1v1h-1zM925 270h1v1h-1zM55 271h2v1h-2zM103 271h1v1h-1zM127 271h1v1h-1zM334 271h1v1h-1zM464 271h1v1h-1zM54 272h1v1h-1zM104 272h1v1h-1zM127 272h1v1h-1zM334 272h1v1h-1zM463 272h1v1h-1zM53 273h1v1h-1zM104 273h1v1h-1zM126 273h1v1h-1zM335 273h1v1h-1zM463 273h1v1h-1zM52 274h1v1h-1zM105 274h1v1h-1zM126 274h1v1h-1zM335 274h1v1h-1zM462 274h1v1h-1zM52 275h1v1h-1zM106 275h1v1h-1zM124 275h2v1h-2zM336 275h1v1h-1zM462 275h1v1h-1zM51 276h1v1h-1zM107 276h1v1h-1zM122 276h2v1h-2zM336 276h1v1h-1zM461 276h1v1h-1zM50 277h1v1h-1zM108 277h1v1h-1zM120 277h2v1h-2zM337 277h1v1h-1zM460 277h1v1h-1zM50 278h1v1h-1zM109 278h2v1h-2zM118 278h2v1h-2zM337 278h1v1h-1zM460 278h1v1h-1zM49 279h1v1h-1zM111 279h7v1h-7zM338 279h1v1h-1zM459 279h1v1h-1zM48 280h1v1h-1zM338 280h1v1h-1zM459 280h1v1h-1zM48 281h1v1h-1zM339 281h1v1h-1zM458 281h1v1h-1zM47 282h1v1h-1zM339 282h1v1h-1zM458 282h1v1h-1zM46 283h1v1h-1zM340 283h1v1h-1zM457 283h1v1h-1zM46 284h1v1h-1zM340 284h1v1h-1zM457 284h1v1h-1zM45 285h1v1h-1zM341 285h1v1h-1zM456 285h1v1h-1zM43 286h2v1h-2zM341 286h1v1h-1zM456 286h1v1h-1zM42 287h1v1h-1zM342 287h1v1h-1zM455 287h1v1h-1zM41 288h1v1h-1zM342 288h1v1h-1zM455 288h1v1h-1zM40 289h1v1h-1zM343 289h1v1h-1zM454 289h1v1h-1zM39 290h1v1h-1zM343 290h1v1h-1zM454 290h1v1h-1zM38 291h1v1h-1zM344 291h1v1h-1zM453 291h1v1h-1zM37 292h1v1h-1zM344 292h1v1h-1zM453 292h1v1h-1zM36 293h1v1h-1zM345 293h1v1h-1zM452 293h1v1h-1zM35 294h1v1h-1zM346 294h1v1h-1zM452 294h1v1h-1zM34 295h1v1h-1zM346 295h1v1h-1zM451 295h1v1h-1zM33 296h1v1h-1zM347 296h1v1h-1zM451 296h1v1h-1zM32 297h1v1h-1zM347 297h1v1h-1zM450 297h1v1h-1zM32 298h1v1h-1zM348 298h1v1h-1zM450 298h1v1h-1zM31 299h1v1h-1zM348 299h1v1h-1zM449 299h1v1h-1zM30 300h1v1h-1zM349 300h1v1h-1zM449 300h1v1h-1zM30 301h1v1h-1zM349 301h1v1h-1zM449 301h1v1h-1zM29 302h1v1h-1zM349 302h1v1h-1zM448 302h1v1h-1zM29 303h1v1h-1zM350 303h1v1h-1zM448 303h1v1h-1zM28 304h1v1h-1zM350 304h1v1h-1zM447 304h1v1h-1zM28 305h1v1h-1zM351 305h1v1h-1zM447 305h1v1h-1zM27 306h1v1h-1zM351 306h1v1h-1zM446 306h1v1h-1zM27 307h1v1h-1zM351 307h1v1h-1zM446 307h1v1h-1zM26 308h1v1h-1zM352 308h1v1h-1zM445 308h1v1h-1zM26 309h1v1h-1zM352 309h1v1h-1zM444 309h1v1h-1zM25 310h1v1h-1zM353 310h1v1h-1zM444 310h1v1h-1zM25 311h1v1h-1zM353 311h1v1h-1zM443 311h1v1h-1zM24 312h1v1h-1zM354 312h1v1h-1zM442 312h1v1h-1zM24 313h1v1h-1zM354 313h1v1h-1zM442 313h1v1h-1zM23 314h1v1h-1zM355 314h1v1h-1zM441 314h1v1h-1zM23 315h1v1h-1zM355 315h1v1h-1zM440 315h1v1h-1zM22 316h1v1h-1zM356 316h1v1h-1zM440 316h1v1h-1zM22 317h1v1h-1zM356 317h1v1h-1zM439 317h1v1h-1zM21 318h1v1h-1zM357 318h1v1h-1zM438 318h1v1h-1zM21 319h1v1h-1zM358 319h1v1h-1zM438 319h1v1h-1zM21 320h1v1h-1zM358 320h1v1h-1zM437 320h1v1h-1zM20 321h1v1h-1zM359 321h1v1h-1zM436 321h1v1h-1zM20 322h1v1h-1zM359 322h1v1h-1zM436 322h1v1h-1zM19 323h1v1h-1zM360 323h1v1h-1zM435 323h1v1h-1zM19 324h1v1h-1zM360 324h1v1h-1zM434 324h1v1h-1zM19 325h1v1h-1zM361 325h1v1h-1zM434 325h1v1h-1zM18 326h1v1h-1zM362 326h1v1h-1zM433 326h1v1h-1zM18 327h1v1h-1zM362 327h1v1h-1zM432 327h1v1h-1zM17 328h1v1h-1zM363 328h1v1h-1zM431 328h1v1h-1zM17 329h1v1h-1zM364 329h1v1h-1zM431 329h1v1h-1zM17 330h1v1h-1zM364 330h1v1h-1zM430 330h1v1h-1zM16 331h1v1h-1zM365 331h1v1h-1zM429 331h1v1h-1zM16 332h1v1h-1zM366 332h1v1h-1zM428 332h1v1h-1zM15 333h1v1h-1zM366 333h1v1h-1zM427 333h1v1h-1zM15 334h1v1h-1zM367 334h1v1h-1zM426 334h1v1h-1zM14 335h1v1h-1zM368 335h1v1h-1zM425 335h1v1h-1zM14 336h1v1h-1zM368 336h1v1h-1zM424 336h1v1h-1zM13 337h1v1h-1zM369 337h1v1h-1zM424 337h1v1h-1zM13 338h1v1h-1zM370 338h1v1h-1zM423 338h1v1h-1zM12 339h1v1h-1zM370 339h1v1h-1zM422 339h1v1h-1zM12 340h1v1h-1zM371 340h1v1h-1zM422 340h1v1h-1zM11 341h1v1h-1zM372 341h1v1h-1zM421 341h1v1h-1zM11 342h1v1h-1zM372 342h1v1h-1zM420 342h1v1h-1zM10 343h1v1h-1zM373 343h1v1h-1zM419 343h1v1h-1zM10 344h1v1h-1zM374 344h1v1h-1zM419 344h1v1h-1zM9 345h1v1h-1zM375 345h1v1h-1zM418 345h1v1h-1zM8 346h1v1h-1zM375 346h1v1h-1zM417 346h1v1h-1zM8 347h1v1h-1zM376 347h1v1h-1zM416 347h1v1h-1zM7 348h1v1h-1zM377 348h1v1h-1zM415 348h1v1h-1zM7 349h1v1h-1zM378 349h1v1h-1zM415 349h1v1h-1zM6 350h1v1h-1zM379 350h1v1h-1zM414 350h1v1h-1zM6 351h1v1h-1zM380 351h1v1h-1zM413 351h1v1h-1zM5 352h1v1h-1zM381 352h1v1h-1zM411 352h2v1h-2zM382 353h2v1h-2zM410 353h1v1h-1zM384 354h2v1h-2zM407 354h3v1h-3zM386 355h2v1h-2zM404 355h3v1h-3zM388 356h3v1h-3zM402 356h2v1h-2zM391 357h4v1h-4zM399 357h3v1h-3zM395 358h4v1h-4z" fill="#0000cd"/>
</g>
<g clip-path="url(#cd)">
<rect x="4" y="436" width="3" height="24" fill="#c0c0c0"/>
<rect x="8" y="434" width="3" height="26" fill="#c0c0c0"/>
<rect x="12" y="432" width="3" height="28" fill="#c0c0c0"/>
<rect x="16" y="430" width="3" height="30" fill="#c0c0c0"/>
<rect x="20" y="426" width="3" height="34" fill="#c0c0c0"/>
<rect x="24" y="425" width="3" height="35" fill="#c0c0c0"/>
<rect x="28" y="427" width="3" height="33" fill="#c0c0c0"/>
<rect x="32" y="430" width="3" height="30" fill="#c0c0c0"/>
<rect x="36" y="432" width="3" height="28" fill="#c0c0c0"/>
<rect x="40" y="434" width="3" height="26" fill="#c0c0c0"/>
<rect x="44" y="436" width="3" height="24" fill="#c0c0c0"/>
<rect x="48" y="437" width="3" height="23" fill="#c0c0c0"/>
<rect x="52" y="440" width="3" height="20" fill="#c0c0c0"/>
<rect x="56" y="445" width="3" height="15" fill="#c0c0c0"/>
<rect x="60" y="448" width="3" height="12" fill="#c0c0c0"/>
<rect x="64" y="451" width="3" height="9" fill="#c0c0c0"/>
<rect x="68" y="452" width="3" height="8" fill="#c0c0c0"/>
<rect x="72" y="452" width="3" height="8" fill="#c0c0c0"/>
<rect x="76" y="452" width="3" height="8" fill="#c0c0c0"/>
<rect x="80" y="454" width="3" height="6" fill="#c0c0c0"/>
<rect x="84" y="453" width="3" height="7" fill="#c0c0c0"/>
<rect x="88" y="452" width="3" height="8" fill="#c0c0c0"/>
<rect x="92" y="452" width="3" height="8" fill="#c0c0c0"/>
<rect x="96" y="453" width="3" height="7" fill="#c0c0c0"/>
<rect x="100" y="454" width="3" height="6" fill="#c0c0c0"/>
<rect x="104" y="455" width="3" height="5" fill="#c0c0c0"/>
<rect x="108" y="456" width="3" height="4" fill="#c0c0c0"/>
<rect x="112" y="456" width="3" height="4" fill="#c0c0c0"/>
<rect x="116" y="455" width="3" height="5" fill="#c0c0c0"/>
<rect x="120" y="453" width="3" height="7" fill="#c0c0c0"/>
<rect x="124" y="450" width="3" height="10" fill="#c0c0c0"/>
<rect x="128" y="443" width="3" height="17" fill="#c0c0c0"/>
<rect x="132" y="438" width="3" height="22" fill="#c0c0c0"/>
<rect x="136" y="434" width="3" height="26" fill="#c0c0c0"/>
<rect x="140" y="437" width="3" height="23" fill="#c0c0c0"/>
<rect x="144" y="440" width="3" height="20" fill="#c0c0c0"/>
<rect x="148" y="444" width="3" height="16" fill="#c0c0c0"/>
<rect x="152" y="444" width="3" height="16" fill="#c0c0c0"/>
<rect x="156" y="446" width="3" height="14" fill="#c0c0c0"/>
<rect x="160" y="448" width="3" height="12" fill="#c0c0c0"/>
<rect x="164" y="450" width="3" height="10" fill="#c0c0c0"/>
<rect x="168" y="451" width="3" height="9" fill="#c0c0c0"/>
<rect x="172" y="452" width="3" height="8" fill="#c0c0c0"/>
<rect x="176" y="455" width="3" height="5" fill="#c0c0c0"/>
<rect x="180" y="459" width="3" height="1" fill="#c0c0c0"/>
<rect x="184" y="460" width="3" height="2" fill="#c0c0c0"/>
<rect x="188" y="460" width="3" height="3" fill="#c0c0c0"/>
<rect x="192" y="460" width="3" height="1" fill="#c0c0c0"/>
<rect x="196" y="457" width="3" height="3" fill="#c0c0c0"/>
<rect x="200" y="456" width="3" height="4" fill="#c0c0c0"/>
<rect x="204" y="455" width="3" height="5" fill="#c0c0c0"/>
<rect x="208" y="454" width="3" height="6" fill="#c0c0c0"/>
<rect x="212" y="454" width="3" height="6" fill="#c0c0c0"/>
<rect x="216" y="453" width="3" height="7" fill="#c0c0c0"/>
<rect x="220" y="454" width="3" height="6" fill="#c0c0c0"/>
<rect x="224" y="453" width="3" height="7" fill="#c0c0c0"/>
<rect x="228" y="451" width="3" height="9" fill="#c0c0c0"/>
<rect x="232" y="448" width="3" height="12" fill="#c0c0c0"/>
<rect x="236" y="446" width="3" height="14" fill="#c0c0c0"/>
<rect x="240" y="443" width="3" height="17" fill="#c0c0c0"/>
<rect x="244" y="443" width="3" height="17" fill="#c0c0c0"/>
<rect x="248" y="446" width="3" height="14" fill="#c0c0c0"/>
<rect x="252" y="448" width="3" height="12" fill="#c0c0c0"/>
<rect x="256" y="451" width="3" height="9" fill="#c0c0c0"/>
<rect x="260" y="454" width="3" height="6" fill="#c0c0c0"/>
<rect x="264" y="454" width="3" height="6" fill="#c0c0c0"/>
<rect x="268" y="453" width="3" height="7" fill="#c0c0c0"/>
<rect x="272" y="454" width="3" height="6" fill="#c0c0c0"/>
<rect x="276" y="456" width="3" height="4" fill="#c0c0c0"/>
<rect x="280" y="458" width="3" height="2" fill="#c0c0c0"/>
<rect x="284" y="460" width="3" height="2" fill="#c0c0c0"/>
<rect x="288" y="460" width="3" height="4" fill="#c0c0c0"/>
<rect x="292" y="460" width="3" height="5" fill="#c0c0c0"/>
<rect x="296" y="460" width="3" height="8" fill="#c0c0c0"/>
<rect x="300" y="460" width="3" height="12" fill="#c0c0c0"/>
<rect x="304" y="460" width="3" height="15" fill="#c0c0c0"/>
<rect x="308" y="460" width="3" height="17" fill="#c0c0c0"/>
<rect x="312" y="460" width="3" height="18" fill="#c0c0c0"/>
<rect x="316" y="460" width="3" height="20" fill="#c0c0c0"/>
<rect x="320" y="460" width="3" height="23" fill="#c0c0c0"/>
<rect x="324" y="460" width="3" height="25" fill="#c0c0c0"/>
<rect x="328" y="460" width="3" height="27" fill="#c0c0c0"/>
<rect x="332" y="460" width="3" height="28" fill="#c0c0c0"/>
<rect x="336" y="460" width="3" height="29" fill="#c0c0c0"/>
<rect x="340" y="460" width="3" height="30" fill="#c0c0c0"/>
<rect x="344" y="460" width="3" height="29" fill="#c0c0c0"/>
<rect x="348" y="460" width="3" height="29" fill="#c0c0c0"/>
<rect x="352" y="460" width="3" height="28" fill="#c0c0c0"/>
<rect x="356" y="460" width="3" height="26" fill="#c0c0c0"/>
<rect x="360" y="460" width="3" height="25" fill="#c0c0c0"/>
<rect x="364" y="460" width="3" height="24" fill="#c0c0c0"/>
<rect x="368" y="460" width="3" height="23" fill="#c0c0c0"/>
<rect x="372" y="460" width="3" height="22" fill="#c0c0c0"/>
<rect x="376" y="460" width="3" height="20" fill="#c0c0c0"/>
<rect x="380" y="460" width="3" height="19" fill="#c0c0c0"/>
<rect x="384" y="460" width="3" height="17" fill="#c0c0c0"/>
<rect x="388" y="460" width="3" height="16" fill="#c0c0c0"/>
<rect x="392" y="460" width="3" height="13" fill="#c0c0c0"/>
<rect x="396" y="460" width="3" height="11" fill="#c0c0c0"/>
<rect x="400" y="460" width="3" height="9" fill="#c0c0c0"/>
<rect x="404" y="460" width="3" height="7" fill="#c0c0c0"/>
<rect x="408" y="460" width="3" height="6" fill="#c0c0c0"/>
<rect x="412" y="460" width="3" height="4" fill="#c0c0c0"/>
<rect x="416" y="458" width="3" height="2" fill="#c0c0c0"/>
<rect x="420" y="455" width="3" height="5" fill="#c0c0c0"/>
<rect x="424" y="454" width="3" height="6" fill="#c0c0c0"/>
<rect x="428" y="453" width="3" height="7" fill="#c0c0c0"/>
<rect x="432" y="451" width="3" height="9" fill="#c0c0c0"/>
<rect x="436" y="449" width="3" height="11" fill="#c0c0c0"/>
<rect x="440" y="447" width="3" height="13" fill="#c0c0c0"/>
<rect x="444" y="444" width="3" height="16" fill="#c0c0c0"/>
<rect x="448" y="442" width="3" height="18" fill="#c0c0c0"/>
<rect x="452" y="440" width="3" height="20" fill="#c0c0c0"/>
<rect x="456" y="439" width="3" height="21" fill="#c0c0c0"/>
<rect x="460" y="439" width="3" height="21" fill="#c0c0c0"/>
<rect x="464" y="439" width="3" height="21" fill="#c0c0c0"/>
<rect x="468" y="435" width="3" height="25" fill="#c0c0c0"/>
<rect x="472" y="435" width="3" height="25" fill="#c0c0c0"/>
<rect x="476" y="434" width="3" height="26" fill="#c0c0c0"/>
<rect x="480" y="433" width="3" height="27" fill="#c0c0c0"/>
<rect x="484" y="432" width="3" height="28" fill="#c0c0c0"/>
<rect x="488" y="431" width="3" height="29" fill="#c0c0c0"/>
<rect x="492" y="429" width="3" height="31" fill="#c0c0c0"/>
<rect x="496" y="429" width="3" height="31" fill="#c0c0c0"/>
<rect x="500" y="431" width="3" height="29" fill="#c0c0c0"/>
<rect x="504" y="437" width="3" height="23" fill="#c0c0c0"/>
<rect x="508" y="441" width="3" height="19" fill="#c0c0c0"/>
<rect x="512" y="443" width="3" height="17" fill="#c0c0c0"/>
<rect x="516" y="444" width="3" height="16" fill="#c0c0c0"/>
<rect x="520" y="445" width="3" height="15" fill="#c0c0c0"/>
<rect x="524" y="444" width="3" height="16" fill="#c0c0c0"/>
<rect x="528" y="441" width="3" height="19" fill="#c0c0c0"/>
<rect x="532" y="440" width="3" height="20" fill="#c0c0c0"/>
<rect x="536" y="441" width="3" height="19" fill="#c0c0c0"/>
<rect x="540" y="440" width="3" height="20" fill="#c0c0c0"/>
<rect x="544" y="438" width="3" height="22" fill="#c0c0c0"/>
<rect x="548" y="436" width="3" height="24" fill="#c0c0c0"/>
<rect x="552" y="435" width="3" height="25" fill="#c0c0c0"/>
<rect x="556" y="436" width="3" height="24" fill="#c0c0c0"/>
<rect x="560" y="438" width="3" height="22" fill="#c0c0c0"/>
<rect x="564" y="441" width="3" height="19" fill="#c0c0c0"/>
<rect x="568" y="443" width="3" height="17" fill="#c0c0c0"/>
<rect x="572" y="445" width="3" height="15" fill="#c0c0c0"/>
<rect x="576" y="447" width="3" height="13" fill="#c0c0c0"/>
<rect x="580" y="449" width="3" height="11" fill="#c0c0c0"/>
<rect x="584" y="452" width="3" height="8" fill="#c0c0c0"/>
<rect x="588" y="457" width="3" height="3" fill="#c0c0c0"/>
<rect x="592" y="460" width="3" height="2" fill="#c0c0c0"/>
<rect x="596" y="460" width="3" height="2" fill="#c0c0c0"/>
<rect x="600" y="460" width="3" height="4" fill="#c0c0c0"/>
<rect x="604" y="460" width="3" height="3" fill="#c0c0c0"/>
<rect x="608" y="460" width="3" height="4" fill="#c0c0c0"/>
<rect x="612" y="460" width="3" height="7" fill="#c0c0c0"/>
<rect x="616" y="460" width="3" height="9" fill="#c0c0c0"/>
<rect x="620" y="460" width="3" height="10" fill="#c0c0c0"/>
<rect x="624" y="460" width="3" height="13" fill="#c0c0c0"/>
<rect x="628" y="460" width="3" height="17" fill="#c0c0c0"/>
<rect x="632" y="460" width="3" height="21" fill="#c0c0c0"/>
<rect x="636" y="460" width="3" height="21" fill="#c0c0c0"/>
<rect x="640" y="460" width="3" height="22" fill="#c0c0c0"/>
<rect x="644" y="460" width="3" height="23" fill="#c0c0c0"/>
<rect x="648" y="460" width="3" height="25" fill="#c0c0c0"/>
<rect x="652" y="460" width="3" height="25" fill="#c0c0c0"/>
<rect x="656" y="460" width="3" height="25" fill="#c0c0c0"/>
<rect x="660" y="460" width="3" height="23" fill="#c0c0c0"/>
<rect x="664" y="460" width="3" height="21" fill="#c0c0c0"/>
<rect x="668" y="460" width="3" height="18" fill="#c0c0c0"/>
<rect x="672" y="460" width="3" height="16" fill="#c0c0c0"/>
<rect x="676" y="460" width="3" height="12" fill="#c0c0c0"/>
<rect x="680" y="460" width="3" height="7" fill="#c0c0c0"/>
<rect x="684" y="460" width="3" height="2" fill="#c0c0c0"/>
<rect x="688" y="457" width="3" height="3" fill="#c0c0c0"/>
<rect x="692" y="456" width="3" height="4" fill="#c0c0c0"/>
<rect x="696" y="455" width="3" height="5" fill="#c0c0c0"/>
<rect x="700" y="455" width="3" height="5" fill="#c0c0c0"/>
<rect x="704" y="456" width="3" height="4" fill="#c0c0c0"/>
<rect x="708" y="454" width="3" height="6" fill="#c0c0c0"/>
<rect x="712" y="452" width="3" height="8" fill="#c0c0c0"/>
<rect x="716" y="454" width="3" height="6" fill="#c0c0c0"/>
<rect x="720" y="454" width="3" height="6" fill="#c0c0c0"/>
<rect x="724" y="455" width="3" height="5" fill="#c0c0c0"/>
<rect x="728" y="454" width="3" height="6" fill="#c0c0c0"/>
<rect x="732" y="453" width="3" height="7" fill="#c0c0c0"/>
<rect x="736" y="453" width="3" height="7" fill="#c0c0c0"/>
<rect x="740" y="453" width="3" height="7" fill="#c0c0c0"/>
<rect x="744" y="453" width="3" height="7" fill="#c0c0c0"/>
<rect x="748" y="454" width="3" height="6" fill="#c0c0c0"/>
<rect x="752" y="455" width="3" height="5" fill="#c0c0c0"/>
<rect x="756" y="454" width="3" height="6" fill="#c0c0c0"/>
<rect x="760" y="453" width="3" height="7" fill="#c0c0c0"/>
<rect x="764" y="453" width="3" height="7" fill="#c0c0c0"/>
<rect x="768" y="452" width="3" height="8" fill="#c0c0c0"/>
<rect x="772" y="453" width="3" height="7" fill="#c0c0c0"/>
<rect x="776" y="451" width="3" height="9" fill="#c0c0c0"/>
<rect x="780" y="453" width="3" height="7" fill="#c0c0c0"/>
<rect x="784" y="453" width="3" height="7" fill="#c0c0c0"/>
<rect x="788" y="456" width="3" height="4" fill="#c0c0c0"/>
<rect x="792" y="456" width="3" height="4" fill="#c0c0c0"/>
<rect x="796" y="459" width="3" height="1" fill="#c0c0c0"/>
<rect x="800" y="460" width="3" height="1" fill="#c0c0c0"/>
<rect x="804" y="459" width="3" height="1" fill="#c0c0c0"/>
<rect x="808" y="459" width="3" height="1" fill="#c0c0c0"/>
<rect x="812" y="457" width="3" height="3" fill="#c0c0c0"/>
<rect x="816" y="452" width="3" height="8" fill="#c0c0c0"/>
<rect x="820" y="452" width="3" height="8" fill="#c0c0c0"/>
<rect x="824" y="452" width="3" height="8" fill="#c0c0c0"/>
<rect x="828" y="454" width="3" height="6" fill="#c0c0c0"/>
<rect x="832" y="455" width="3" height="5" fill="#c0c0c0"/>
<rect x="836" y="453" width="3" height="7" fill="#c0c0c0"/>
<rect x="840" y="454" width="3" height="6" fill="#c0c0c0"/>
<rect x="844" y="456" width="3" height="4" fill="#c0c0c0"/>
<rect x="848" y="459" width="3" height="1" fill="#c0c0c0"/>
<rect x="852" y="460" width="3" height="5" fill="#c0c0c0"/>
<rect x="856" y="460" width="3" height="7" fill="#c0c0c0"/>
<rect x="860" y="460" width="3" height="10" fill="#c0c0c0"/>
<rect x="864" y="460" width="3" height="12" fill="#c0c0c0"/>
<rect x="868" y="460" width="3" height="14" fill="#c0c0c0"/>
<rect x="872" y="460" width="3" height="17" fill="#c0c0c0"/>
<rect x="876" y="460" width="3" height="20" fill="#c0c0c0"/>
<rect x="880" y="460" width="3" height="22" fill="#c0c0c0"/>
<rect x="884" y="460" width="3" height="23" fill="#c0c0c0"/>
<rect x="888" y="460" width="3" height="23" fill="#c0c0c0"/>
<rect x="892" y="460" width="3" height="24" fill="#c0c0c0"/>
<rect x="896" y="460" width="3" height="24" fill="#c0c0c0"/>
<rect x="900" y="460" width="3" height="23" fill="#c0c0c0"/>
<rect x="904" y="460" width="3" height="22" fill="#c0c0c0"/>
<rect x="908" y="460" width="3" height="22" fill="#c0c0c0"/>
<rect x="912" y="460" width="3" height="21" fill="#c0c0c0"/>
<rect x="916" y="460" width="3" height="19" fill="#c0c0c0"/>
<rect x="920" y="460" width="3" height="16" fill="#c0c0c0"/>
<rect x="924" y="460" width="3" height="14" fill="#c0c0c0"/>
<path d="M31 430h16v1h-16zM27 431h4v1h-4zM47 431h4v1h-4zM24 432h3v1h-3zM51 432h3v1h-3zM499 432h8v1h-8zM22 433h2v1h-2zM54 433h2v1h-2zM495 433h4v1h-4zM507 433h4v1h-4zM19 434h3v1h-3zM56 434h2v1h-2zM491 434h4v1h-4zM511 434h4v1h-4zM16 435h3v1h-3zM58 435h1v1h-1zM487 435h4v1h-4zM515 435h3v1h-3zM14 436h2v1h-2zM59 436h2v1h-2zM483 436h4v1h-4zM518 436h2v1h-2zM11 437h3v1h-3zM61 437h1v1h-1zM480 437h3v1h-3zM520 437h3v1h-3zM7 438h4v1h-4zM62 438h2v1h-2zM478 438h2v1h-2zM523 438h4v1h-4zM559 438h8v1h-8zM5 439h2v1h-2zM64 439h2v1h-2zM475 439h3v1h-3zM527 439h3v1h-3zM555 439h4v1h-4zM567 439h8v1h-8zM66 440h1v1h-1zM472 440h3v1h-3zM530 440h2v1h-2zM551 440h4v1h-4zM575 440h4v1h-4zM67 441h2v1h-2zM470 441h2v1h-2zM532 441h3v1h-3zM547 441h4v1h-4zM579 441h3v1h-3zM69 442h1v1h-1zM155 442h11v1h-11zM467 442h3v1h-3zM535 442h12v1h-12zM582 442h2v1h-2zM70 443h2v1h-2zM151 443h4v1h-4zM166 443h2v1h-2zM464 443h3v1h-3zM584 443h2v1h-2zM72 444h2v1h-2zM147 444h4v1h-4zM168 444h2v1h-2zM462 444h2v1h-2zM586 444h2v1h-2zM74 445h2v1h-2zM144 445h3v1h-3zM170 445h2v1h-2zM460 445h2v1h-2zM588 445h2v1h-2zM76 446h2v1h-2zM142 446h2v1h-2zM172 446h2v1h-2zM458 446h2v1h-2zM590 446h1v1h-1zM78 447h2v1h-2zM140 447h2v1h-2zM174 447h2v1h-2zM455 447h3v1h-3zM591 447h2v1h-2zM80 448h2v1h-2zM138 448h2v1h-2zM176 448h2v1h-2zM251 448h16v1h-16zM452 448h3v1h-3zM593 448h1v1h-1zM82 449h2v1h-2zM136 449h2v1h-2zM178 449h2v1h-2zM244 449h7v1h-7zM267 449h4v1h-4zM450 449h2v1h-2zM594 449h1v1h-1zM84 450h3v1h-3zM134 450h2v1h-2zM180 450h2v1h-2zM242 450h2v1h-2zM271 450h4v1h-4zM449 450h1v1h-1zM595 450h2v1h-2zM87 451h4v1h-4zM132 451h2v1h-2zM182 451h2v1h-2zM239 451h3v1h-3zM275 451h3v1h-3zM447 451h2v1h-2zM597 451h1v1h-1zM91 452h8v1h-8zM130 452h2v1h-2zM184 452h2v1h-2zM235 452h4v1h-4zM278 452h2v1h-2zM446 452h1v1h-1zM598 452h2v1h-2zM99 453h12v1h-12zM127 453h3v1h-3zM186 453h2v1h-2zM231 453h4v1h-4zM280 453h3v1h-3zM444 453h2v1h-2zM600 453h2v1h-2zM743 453h4v1h-4zM763 453h32v1h-32zM111 454h16v1h-16zM188 454h3v1h-3zM227 454h4v1h-4zM283 454h3v1h-3zM442 454h2v1h-2zM602 454h2v1h-2zM727 454h16v1h-16zM747 454h16v1h-16zM795 454h4v1h-4zM839 454h11v1h-11zM191 455h4v1h-4zM223 455h4v1h-4zM286 455h2v1h-2zM440 455h2v1h-2zM604 455h2v1h-2zM719 455h8v1h-8zM799 455h8v1h-8zM835 455h4v1h-4zM850 455h2v1h-2zM195 456h4v1h-4zM219 456h4v1h-4zM288 456h3v1h-3zM438 456h2v1h-2zM606 456h2v1h-2zM715 456h4v1h-4zM807 456h4v1h-4zM823 456h12v1h-12zM852 456h3v1h-3zM199 457h4v1h-4zM215 457h4v1h-4zM291 457h3v1h-3zM436 457h2v1h-2zM608 457h2v1h-2zM712 457h3v1h-3zM811 457h12v1h-12zM855 457h3v1h-3zM203 458h12v1h-12zM294 458h2v1h-2zM434 458h2v1h-2zM610 458h2v1h-2zM710 458h2v1h-2zM858 458h2v1h-2zM296 459h2v1h-2zM432 459h2v1h-2zM612 459h2v1h-2zM708 459h2v1h-2zM860 459h2v1h-2zM298 460h2v1h-2zM430 460h2v1h-2zM614 460h2v1h-2zM706 460h2v1h-2zM862 460h2v1h-2zM300 461h2v1h-2zM428 461h2v1h-2zM616 461h2v1h-2zM705 461h1v1h-1zM864 461h2v1h-2zM302 462h2v1h-2zM426 462h2v1h-2zM618 462h2v1h-2zM703 462h2v1h-2zM866 462h2v1h-2zM304 463h2v1h-2zM425 463h1v1h-1zM620 463h2v1h-2zM702 463h1v1h-1zM868 463h2v1h-2zM306 464h2v1h-2zM423 464h2v1h-2zM622 464h2v1h-2zM700 464h2v1h-2zM870 464h2v1h-2zM308 465h2v1h-2zM422 465h1v1h-1zM624 465h2v1h-2zM698 465h2v1h-2zM872 465h2v1h-2zM310 466h1v1h-1zM420 466h2v1h-2zM626 466h2v1h-2zM697 466h1v1h-1zM874 466h1v1h-1zM311 467h2v1h-2zM418 467h2v1h-2zM628 467h2v1h-2zM695 467h2v1h-2zM875 467h2v1h-2zM313 468h1v1h-1zM416 468h2v1h-2zM630 468h2v1h-2zM694 468h1v1h-1zM877 468h1v1h-1zM314 469h2v1h-2zM414 469h2v1h-2zM632 469h2v1h-2zM693 469h1v1h-1zM878 469h1v1h-1zM316 470h2v1h-2zM412 470h2v1h-2zM634 470h2v1h-2zM692 470h1v1h-1zM879 470h2v1h-2zM318 471h1v1h-1zM410 471h2v1h-2zM636 471h2v1h-2zM691 471h1v1h-1zM881 471h1v1h-1zM319 472h2v1h-2zM408 472h2v1h-2zM638 472h2v1h-2zM690 472h1v1h-1zM882 472h1v1h-1zM321 473h1v1h-1zM406 473h2v1h-2zM640 473h2v1h-2zM689 473h1v1h-1zM883 473h2v1h-2zM322 474h2v1h-2zM404 474h2v1h-2zM642 474h2v1h-2zM687 474h2v1h-2zM885 474h1v1h-1zM324 475h2v1h-2zM402 475h2v1h-2zM644 475h2v1h-2zM686 475h1v1h-1zM886 475h2v1h-2zM326 476h2v1h-2zM399 476h3v1h-3zM646 476h2v1h-2zM684 476h2v1h-2zM888 476h3v1h-3zM328 477h2v1h-2zM396 477h3v1h-3zM648 477h2v1h-2zM682 477h2v1h-2zM891 477h3v1h-3zM330 478h2v1h-2zM394 478h2v1h-2zM650 478h2v1h-2zM680 478h2v1h-2zM894 478h2v1h-2zM332 479h2v1h-2zM392 479h2v1h-2zM652 479h3v1h-3zM678 479h2v1h-2zM896 479h3v1h-3zM923 479h3v1h-3zM334 480h2v1h-2zM390 480h2v1h-2zM655 480h4v1h-4zM675 480h3v1h-3zM899 480h4v1h-4zM919 480h4v1h-4zM336 481h2v1h-2zM387 481h3v1h-3zM659 481h4v1h-4zM671 481h4v1h-4zM903 481h8v1h-8zM915 481h4v1h-4zM338 482h2v1h-2zM383 482h4v1h-4zM663 482h8v1h-8zM911 482h4v1h-4zM340 483h3v1h-3zM379 483h4v1h-4zM343 484h3v1h-3zM375 484h4v1h-4zM346 485h2v1h-2zM371 485h4v1h-4zM348 486h7v1h-7zM363 486h8v1h-8zM355 487h8v1h-8z" fill="#ff0000"/>
</g>
<g clip-path="url(#cr)">
<line x1="6" y1="517.5" x2="1167" y2="517.5" stroke="#c0c0c0" stroke-width="1" stroke-dasharray="3 3"/>
<line x1="6" y1="546.5" x2="1167" y2="546.5" stroke="#c0c0c0" stroke-width="1" stroke-dasharray="3 3"/>
<path d="M21 513h1v1h-1zM20 514h1v1h-1zM22 514h1v1h-1zM129 514h5v1h-5zM19 515h1v1h-1zM22 515h1v1h-1zM128 515h1v1h-1zM134 515h2v1h-2zM469 515h1v1h-1zM18 516h1v1h-1zM23 516h1v1h-1zM128 516h1v1h-1zM136 516h2v1h-2zM468 516h1v1h-1zM470 516h1v1h-1zM491 516h3v1h-3zM15 517h3v1h-3zM24 517h1v1h-1zM127 517h1v1h-1zM137 517h1v1h-1zM452 517h2v1h-2zM468 517h1v1h-1zM470 517h1v1h-1zM484 517h7v1h-7zM494 517h2v1h-2zM9 518h6v1h-6zM24 518h1v1h-1zM127 518h1v1h-1zM138 518h1v1h-1zM445 518h2v1h-2zM450 518h2v1h-2zM454 518h1v1h-1zM467 518h1v1h-1zM471 518h1v1h-1zM482 518h2v1h-2zM496 518h2v1h-2zM8 519h1v1h-1zM25 519h1v1h-1zM126 519h1v1h-1zM138 519h1v1h-1zM417 519h1v1h-1zM444 519h1v1h-1zM447 519h3v1h-3zM455 519h2v1h-2zM466 519h1v1h-1zM472 519h1v1h-1zM480 519h2v1h-2zM498 519h1v1h-1zM7 520h1v1h-1zM26 520h1v1h-1zM126 520h1v1h-1zM138 520h1v1h-1zM417 520h2v1h-2zM443 520h1v1h-1zM457 520h1v1h-1zM466 520h1v1h-1zM472 520h1v1h-1zM478 520h2v1h-2zM498 520h1v1h-1zM529 520h1v1h-1zM548 520h3v1h-3zM6 521h1v1h-1zM26 521h1v1h-1zM124 521h2v1h-2zM139 521h1v1h-1zM416 521h1v1h-1zM419 521h1v1h-1zM437 521h2v1h-2zM442 521h1v1h-1zM458 521h2v1h-2zM463 521h3v1h-3zM473 521h5v1h-5zM499 521h1v1h-1zM527 521h2v1h-2zM530 521h1v1h-1zM546 521h2v1h-2zM551 521h3v1h-3zM5 522h1v1h-1zM27 522h1v1h-1zM122 522h2v1h-2zM139 522h1v1h-1zM236 522h6v1h-6zM416 522h1v1h-1zM420 522h1v1h-1zM435 522h2v1h-2zM439 522h3v1h-3zM460 522h3v1h-3zM500 522h1v1h-1zM526 522h1v1h-1zM531 522h2v1h-2zM541 522h5v1h-5zM554 522h1v1h-1zM684 522h2v1h-2zM27 523h1v1h-1zM121 523h1v1h-1zM139 523h1v1h-1zM234 523h2v1h-2zM242 523h2v1h-2zM415 523h1v1h-1zM421 523h2v1h-2zM434 523h1v1h-1zM500 523h1v1h-1zM525 523h1v1h-1zM533 523h1v1h-1zM540 523h1v1h-1zM554 523h1v1h-1zM682 523h2v1h-2zM686 523h1v1h-1zM817 523h1v1h-1zM28 524h1v1h-1zM120 524h1v1h-1zM139 524h1v1h-1zM231 524h3v1h-3zM244 524h2v1h-2zM415 524h1v1h-1zM423 524h3v1h-3zM433 524h1v1h-1zM501 524h1v1h-1zM524 524h1v1h-1zM534 524h1v1h-1zM539 524h1v1h-1zM555 524h1v1h-1zM681 524h1v1h-1zM687 524h2v1h-2zM777 524h1v1h-1zM816 524h1v1h-1zM818 524h1v1h-1zM28 525h1v1h-1zM119 525h1v1h-1zM140 525h1v1h-1zM229 525h2v1h-2zM245 525h1v1h-1zM414 525h1v1h-1zM426 525h1v1h-1zM432 525h1v1h-1zM501 525h1v1h-1zM523 525h1v1h-1zM535 525h1v1h-1zM539 525h1v1h-1zM556 525h1v1h-1zM680 525h1v1h-1zM689 525h1v1h-1zM776 525h2v1h-2zM815 525h1v1h-1zM818 525h1v1h-1zM29 526h2v1h-2zM35 526h4v1h-4zM48 526h2v1h-2zM118 526h1v1h-1zM140 526h1v1h-1zM196 526h2v1h-2zM227 526h2v1h-2zM246 526h1v1h-1zM414 526h1v1h-1zM427 526h1v1h-1zM431 526h1v1h-1zM502 526h1v1h-1zM523 526h1v1h-1zM536 526h1v1h-1zM538 526h1v1h-1zM556 526h1v1h-1zM680 526h1v1h-1zM690 526h1v1h-1zM709 526h5v1h-5zM767 526h3v1h-3zM776 526h1v1h-1zM778 526h1v1h-1zM814 526h1v1h-1zM819 526h1v1h-1zM31 527h4v1h-4zM39 527h4v1h-4zM46 527h2v1h-2zM50 527h1v1h-1zM87 527h7v1h-7zM117 527h1v1h-1zM140 527h1v1h-1zM153 527h1v1h-1zM194 527h2v1h-2zM198 527h2v1h-2zM207 527h3v1h-3zM217 527h1v1h-1zM226 527h1v1h-1zM246 527h1v1h-1zM269 527h1v1h-1zM413 527h1v1h-1zM428 527h1v1h-1zM430 527h1v1h-1zM502 527h1v1h-1zM522 527h1v1h-1zM537 527h1v1h-1zM557 527h2v1h-2zM679 527h1v1h-1zM691 527h2v1h-2zM708 527h1v1h-1zM714 527h1v1h-1zM759 527h8v1h-8zM770 527h1v1h-1zM775 527h1v1h-1zM778 527h1v1h-1zM813 527h1v1h-1zM820 527h1v1h-1zM837 527h1v1h-1zM43 528h3v1h-3zM51 528h1v1h-1zM85 528h2v1h-2zM94 528h1v1h-1zM116 528h1v1h-1zM141 528h1v1h-1zM152 528h1v1h-1zM154 528h1v1h-1zM193 528h1v1h-1zM200 528h7v1h-7zM210 528h1v1h-1zM215 528h2v1h-2zM218 528h1v1h-1zM225 528h1v1h-1zM247 528h1v1h-1zM268 528h1v1h-1zM270 528h1v1h-1zM412 528h1v1h-1zM429 528h1v1h-1zM503 528h1v1h-1zM515 528h7v1h-7zM559 528h3v1h-3zM678 528h1v1h-1zM693 528h1v1h-1zM707 528h1v1h-1zM714 528h1v1h-1zM729 528h6v1h-6zM756 528h3v1h-3zM771 528h1v1h-1zM774 528h1v1h-1zM779 528h1v1h-1zM812 528h1v1h-1zM820 528h1v1h-1zM836 528h1v1h-1zM838 528h1v1h-1zM51 529h1v1h-1zM72 529h6v1h-6zM84 529h1v1h-1zM95 529h1v1h-1zM115 529h1v1h-1zM141 529h1v1h-1zM152 529h1v1h-1zM155 529h1v1h-1zM193 529h1v1h-1zM211 529h2v1h-2zM214 529h1v1h-1zM219 529h1v1h-1zM224 529h1v1h-1zM247 529h1v1h-1zM267 529h1v1h-1zM271 529h1v1h-1zM395 529h4v1h-4zM411 529h1v1h-1zM503 529h1v1h-1zM513 529h2v1h-2zM562 529h2v1h-2zM567 529h3v1h-3zM678 529h1v1h-1zM694 529h2v1h-2zM707 529h1v1h-1zM715 529h1v1h-1zM728 529h1v1h-1zM735 529h11v1h-11zM754 529h2v1h-2zM772 529h1v1h-1zM774 529h1v1h-1zM779 529h1v1h-1zM785 529h1v1h-1zM811 529h1v1h-1zM821 529h1v1h-1zM835 529h1v1h-1zM839 529h2v1h-2zM52 530h1v1h-1zM70 530h2v1h-2zM78 530h1v1h-1zM83 530h1v1h-1zM96 530h1v1h-1zM115 530h1v1h-1zM142 530h1v1h-1zM151 530h1v1h-1zM156 530h1v1h-1zM192 530h1v1h-1zM213 530h1v1h-1zM219 530h1v1h-1zM223 530h1v1h-1zM248 530h1v1h-1zM266 530h1v1h-1zM272 530h1v1h-1zM393 530h2v1h-2zM399 530h4v1h-4zM411 530h1v1h-1zM504 530h1v1h-1zM512 530h1v1h-1zM564 530h3v1h-3zM570 530h2v1h-2zM575 530h3v1h-3zM676 530h2v1h-2zM696 530h7v1h-7zM706 530h1v1h-1zM716 530h1v1h-1zM720 530h2v1h-2zM727 530h1v1h-1zM746 530h1v1h-1zM752 530h2v1h-2zM773 530h1v1h-1zM780 530h1v1h-1zM784 530h1v1h-1zM786 530h1v1h-1zM805 530h1v1h-1zM811 530h1v1h-1zM822 530h2v1h-2zM835 530h1v1h-1zM841 530h1v1h-1zM53 531h1v1h-1zM68 531h2v1h-2zM79 531h2v1h-2zM82 531h1v1h-1zM97 531h2v1h-2zM103 531h4v1h-4zM114 531h1v1h-1zM143 531h2v1h-2zM150 531h1v1h-1zM157 531h2v1h-2zM167 531h7v1h-7zM192 531h1v1h-1zM220 531h1v1h-1zM222 531h1v1h-1zM248 531h1v1h-1zM265 531h1v1h-1zM273 531h1v1h-1zM393 531h1v1h-1zM403 531h4v1h-4zM410 531h1v1h-1zM504 531h1v1h-1zM511 531h1v1h-1zM572 531h3v1h-3zM578 531h2v1h-2zM674 531h2v1h-2zM703 531h3v1h-3zM716 531h1v1h-1zM718 531h2v1h-2zM722 531h2v1h-2zM726 531h1v1h-1zM747 531h2v1h-2zM750 531h2v1h-2zM780 531h1v1h-1zM783 531h1v1h-1zM786 531h1v1h-1zM793 531h1v1h-1zM804 531h1v1h-1zM806 531h2v1h-2zM810 531h1v1h-1zM824 531h2v1h-2zM834 531h1v1h-1zM842 531h1v1h-1zM920 531h2v1h-2zM54 532h1v1h-1zM66 532h2v1h-2zM81 532h1v1h-1zM99 532h4v1h-4zM107 532h7v1h-7zM145 532h2v1h-2zM150 532h1v1h-1zM159 532h8v1h-8zM174 532h1v1h-1zM191 532h1v1h-1zM221 532h1v1h-1zM249 532h1v1h-1zM264 532h1v1h-1zM274 532h1v1h-1zM392 532h1v1h-1zM407 532h3v1h-3zM505 532h1v1h-1zM510 532h1v1h-1zM580 532h2v1h-2zM605 532h1v1h-1zM669 532h5v1h-5zM717 532h1v1h-1zM724 532h2v1h-2zM749 532h1v1h-1zM781 532h2v1h-2zM787 532h1v1h-1zM792 532h1v1h-1zM794 532h1v1h-1zM803 532h1v1h-1zM808 532h2v1h-2zM826 532h2v1h-2zM831 532h3v1h-3zM843 532h1v1h-1zM918 532h2v1h-2zM922 532h2v1h-2zM55 533h1v1h-1zM60 533h6v1h-6zM147 533h3v1h-3zM175 533h1v1h-1zM191 533h1v1h-1zM249 533h9v1h-9zM263 533h1v1h-1zM275 533h2v1h-2zM392 533h1v1h-1zM505 533h5v1h-5zM582 533h1v1h-1zM597 533h1v1h-1zM603 533h2v1h-2zM606 533h2v1h-2zM668 533h1v1h-1zM781 533h1v1h-1zM788 533h1v1h-1zM791 533h1v1h-1zM795 533h1v1h-1zM802 533h1v1h-1zM828 533h3v1h-3zM843 533h1v1h-1zM917 533h1v1h-1zM924 533h2v1h-2zM56 534h1v1h-1zM58 534h2v1h-2zM176 534h1v1h-1zM190 534h1v1h-1zM258 534h2v1h-2zM262 534h1v1h-1zM277 534h2v1h-2zM391 534h1v1h-1zM583 534h2v1h-2zM596 534h1v1h-1zM598 534h2v1h-2zM602 534h1v1h-1zM608 534h2v1h-2zM667 534h1v1h-1zM788 534h1v1h-1zM790 534h1v1h-1zM795 534h1v1h-1zM800 534h2v1h-2zM844 534h1v1h-1zM917 534h1v1h-1zM57 535h1v1h-1zM177 535h1v1h-1zM190 535h1v1h-1zM260 535h2v1h-2zM279 535h3v1h-3zM385 535h1v1h-1zM391 535h1v1h-1zM585 535h1v1h-1zM596 535h1v1h-1zM600 535h2v1h-2zM610 535h1v1h-1zM666 535h1v1h-1zM789 535h1v1h-1zM796 535h1v1h-1zM798 535h2v1h-2zM845 535h1v1h-1zM916 535h1v1h-1zM178 536h2v1h-2zM183 536h7v1h-7zM282 536h2v1h-2zM384 536h1v1h-1zM386 536h1v1h-1zM390 536h1v1h-1zM586 536h1v1h-1zM595 536h1v1h-1zM611 536h1v1h-1zM620 536h2v1h-2zM661 536h5v1h-5zM797 536h1v1h-1zM846 536h2v1h-2zM916 536h1v1h-1zM180 537h3v1h-3zM284 537h10v1h-10zM383 537h1v1h-1zM387 537h2v1h-2zM390 537h1v1h-1zM586 537h1v1h-1zM594 537h1v1h-1zM611 537h1v1h-1zM618 537h2v1h-2zM622 537h1v1h-1zM660 537h1v1h-1zM848 537h2v1h-2zM915 537h1v1h-1zM294 538h2v1h-2zM383 538h1v1h-1zM389 538h1v1h-1zM587 538h1v1h-1zM594 538h1v1h-1zM612 538h1v1h-1zM615 538h3v1h-3zM623 538h1v1h-1zM660 538h1v1h-1zM850 538h2v1h-2zM855 538h4v1h-4zM903 538h3v1h-3zM915 538h1v1h-1zM296 539h2v1h-2zM375 539h4v1h-4zM382 539h1v1h-1zM588 539h1v1h-1zM592 539h2v1h-2zM613 539h2v1h-2zM623 539h1v1h-1zM637 539h2v1h-2zM659 539h1v1h-1zM852 539h3v1h-3zM859 539h8v1h-8zM899 539h4v1h-4zM906 539h1v1h-1zM914 539h1v1h-1zM298 540h1v1h-1zM360 540h2v1h-2zM373 540h2v1h-2zM379 540h3v1h-3zM588 540h1v1h-1zM590 540h2v1h-2zM624 540h1v1h-1zM636 540h1v1h-1zM639 540h4v1h-4zM658 540h1v1h-1zM867 540h3v1h-3zM885 540h2v1h-2zM896 540h3v1h-3zM907 540h2v1h-2zM914 540h1v1h-1zM299 541h1v1h-1zM358 541h2v1h-2zM362 541h2v1h-2zM372 541h1v1h-1zM589 541h1v1h-1zM625 541h1v1h-1zM635 541h1v1h-1zM643 541h4v1h-4zM651 541h4v1h-4zM658 541h1v1h-1zM870 541h2v1h-2zM883 541h2v1h-2zM887 541h4v1h-4zM894 541h2v1h-2zM909 541h5v1h-5zM299 542h1v1h-1zM304 542h10v1h-10zM355 542h3v1h-3zM364 542h2v1h-2zM371 542h1v1h-1zM626 542h1v1h-1zM634 542h1v1h-1zM647 542h4v1h-4zM655 542h3v1h-3zM872 542h2v1h-2zM882 542h1v1h-1zM891 542h3v1h-3zM300 543h1v1h-1zM302 543h2v1h-2zM314 543h2v1h-2zM345 543h2v1h-2zM351 543h4v1h-4zM366 543h2v1h-2zM370 543h1v1h-1zM627 543h2v1h-2zM631 543h3v1h-3zM874 543h2v1h-2zM879 543h3v1h-3zM301 544h1v1h-1zM316 544h2v1h-2zM344 544h1v1h-1zM347 544h4v1h-4zM368 544h2v1h-2zM629 544h2v1h-2zM876 544h3v1h-3zM318 545h1v1h-1zM344 545h1v1h-1zM319 546h2v1h-2zM323 546h12v1h-12zM343 546h1v1h-1zM321 547h2v1h-2zM335 547h3v1h-3zM342 547h1v1h-1zM338 548h2v1h-2zM342 548h1v1h-1zM340 549h2v1h-2z" fill="#1e90ff"/>
</g>
<rect x="4" y="26" width="1164" height="1" fill="#000"/>
<rect x="4" y="418" width="1164" height="1" fill="#000"/>
<rect x="4" y="26" width="1" height="393" fill="#000"/>
<rect x="1167" y="26" width="1" height="393" fill="#000"/>
<rect x="4" y="420" width="1164" height="1" fill="#000"/>
<rect x="4" y="492" width="1164" height="1" fill="#000"/>
<rect x="4" y="420" width="1" height="73" fill="#000"/>
<rect x="1167" y="420" width="1" height="73" fill="#000"/>
<rect x="4" y="494" width="1164" height="1" fill="#000"/>
<rect x="4" y="568" width="1164" height="1" fill="#000"/>
<rect x="4" y="494" width="1" height="75" fill="#000"/>
<rect x="1167" y="494" width="1" height="75" fill="#000"/>
<g font-family="Liberation Sans, sans-serif">
<rect x="1168" y="52" width="2" height="1" fill="#000"/>
<text transform="translate(1173.4 55.7) scale(0.9 1)" font-size="10" fill="#000" stroke="#000" stroke-width="0.25">1.29510</text>
<rect x="1168" y="85" width="2" height="1" fill="#000"/>
<rect x="1168" y="118" width="2" height="1" fill="#000"/>
<text transform="translate(1173.4 121.7) scale(0.9 1)" font-size="10" fill="#000" stroke="#000" stroke-width="0.25">1.28280</text>
<rect x="1168" y="151" width="2" height="1" fill="#000"/>
<text transform="translate(1173.4 154.7) scale(0.9 1)" font-size="10" fill="#000" stroke="#000" stroke-width="0.25">1.27665</text>
<rect x="1168" y="184" width="2" height="1" fill="#000"/>
<text transform="translate(1173.4 187.7) scale(0.9 1)" font-size="10" fill="#000" stroke="#000" stroke-width="0.25">1.27050</text>
<rect x="1168" y="217" width="2" height="1" fill="#000"/>
<text transform="translate(1173.4 220.7) scale(0.9 1)" font-size="10" fill="#000" stroke="#000" stroke-width="0.25">1.26435</text>
<rect x="1168" y="250" width="2" height="1" fill="#000"/>
<text transform="translate(1173.4 253.7) scale(0.9 1)" font-size="10" fill="#000" stroke="#000" stroke-width="0.25">1.25820</text>
<rect x="1168" y="283" width="2" height="1" fill="#000"/>
<text transform="translate(1173.4 286.7) scale(0.9 1)" font-size="10" fill="#000" stroke="#000" stroke-width="0.25">1.25205</text>
<rect x="1168" y="316" width="2" height="1" fill="#000"/>
<text transform="translate(1173.4 319.7) scale(0.9 1)" font-size="10" fill="#000" stroke="#000" stroke-width="0.25">1.24590</text>
<rect x="1168" y="349" width="2" height="1" fill="#000"/>
<text transform="translate(1173.4 352.7) scale(0.9 1)" font-size="10" fill="#000" stroke="#000" stroke-width="0.25">1.23975</text>
<rect x="1168" y="382" width="2" height="1" fill="#000"/>
<text transform="translate(1173.4 385.7) scale(0.9 1)" font-size="10" fill="#000" stroke="#000" stroke-width="0.25">1.23360</text>
<rect x="1168" y="415" width="2" height="1" fill="#000"/>
<text transform="translate(1173.4 418.7) scale(0.9 1)" font-size="10" fill="#000" stroke="#000" stroke-width="0.25">1.22745</text>
<rect x="1169" y="78" width="38" height="11" fill="#ff0000"/>
<text transform="translate(1173.4 87) scale(0.9 1)" font-size="10" fill="#fff">1.28912</text>
<rect x="1169" y="153" width="38" height="11" fill="#ff0000"/>
<text transform="translate(1173.4 162) scale(0.9 1)" font-size="10" fill="#fff">1.27515</text>
<rect x="1169" y="218" width="38" height="11" fill="#00ff00"/>
<text transform="translate(1173.4 227) scale(0.9 1)" font-size="10" fill="#fff">1.26303</text>
<rect x="1169" y="253" width="38" height="11" fill="#000000"/>
<text transform="translate(1173.4 262) scale(0.9 1)" font-size="10" fill="#fff">1.25672</text>
<rect x="1169" y="299" width="38" height="11" fill="#0000ff"/>
<text transform="translate(1173.4 308) scale(0.9 1)" font-size="10" fill="#fff">1.24800</text>
<rect x="1169" y="385" width="38" height="11" fill="#0000ff"/>
<text transform="translate(1173.4 394) scale(0.9 1)" font-size="10" fill="#fff">1.23203</text>
<rect x="1168" y="422" width="2" height="1" fill="#000"/>
<rect x="1168" y="460" width="2" height="1" fill="#000"/>
<rect x="1168" y="491" width="2" height="1" fill="#000"/>
<text transform="translate(1171.2 431) scale(0.9 1)" font-size="10" fill="#000" stroke="#000" stroke-width="0.25">0.010869</text>
<text transform="translate(1171.4 463.9) scale(0.9 1)" font-size="10" fill="#000" stroke="#000" stroke-width="0.25">0.00</text>
<text transform="translate(1171.2 489.4) scale(0.9 1)" font-size="10" fill="#000" stroke="#000" stroke-width="0.25">-0.00897</text>
<rect x="1168" y="496" width="2" height="1" fill="#000"/>
<rect x="1168" y="567" width="2" height="1" fill="#000"/>
<text transform="translate(1171.2 505.2) scale(0.9 1)" font-size="10" fill="#000" stroke="#000" stroke-width="0.25">100</text>
<text transform="translate(1170.8 521.2) scale(0.9 1)" font-size="10" fill="#000" stroke="#000" stroke-width="0.25">70</text>
<text transform="translate(1170.8 550.1) scale(0.9 1)" font-size="10" fill="#000" stroke="#000" stroke-width="0.25">30</text>
<text transform="translate(1171.2 565.1) scale(0.9 1)" font-size="10" fill="#000" stroke="#000" stroke-width="0.25">0</text>
<rect x="5" y="569" width="1" height="3" fill="#000"/>
<text x="4.199999999999999" y="581" font-size="10" fill="#000" stroke="#000" stroke-width="0.25" textLength="46.8" lengthAdjust="spacingAndGlyphs">14 Jul 2021</text>
<rect x="69" y="569" width="1" height="3" fill="#000"/>
<text x="67.89999999999999" y="581" font-size="10" fill="#000" stroke="#000" stroke-width="0.25" textLength="47.8" lengthAdjust="spacingAndGlyphs">2 Aug 2021</text>
<rect x="133" y="569" width="1" height="3" fill="#000"/>
<text x="131.79999999999998" y="581" font-size="10" fill="#000" stroke="#000" stroke-width="0.25" textLength="52.8" lengthAdjust="spacingAndGlyphs">20 Aug 2021</text>
<rect x="197" y="569" width="1" height="3" fill="#000"/>
<text x="195.9" y="581" font-size="10" fill="#000" stroke="#000" stroke-width="0.25" textLength="47.199999999999996" lengthAdjust="spacingAndGlyphs">8 Sep 2021</text>
<rect x="261" y="569" width="1" height="3" fill="#000"/>
<text x="260.0" y="581" font-size="10" fill="#000" stroke="#000" stroke-width="0.25" textLength="52.199999999999996" lengthAdjust="spacingAndGlyphs">27 Sep 2021</text>
<rect x="325" y="569" width="1" height="3" fill="#000"/>
<text x="324.1" y="581" font-size="10" fill="#000" stroke="#000" stroke-width="0.25" textLength="50.5" lengthAdjust="spacingAndGlyphs">15 Oct 2021</text>
<rect x="389" y="569" width="1" height="3" fill="#000"/>
<text x="387.90000000000003" y="581" font-size="10" fill="#000" stroke="#000" stroke-width="0.25" textLength="48.8" lengthAdjust="spacingAndGlyphs">3 Nov 2021</text>
<rect x="453" y="569" width="1" height="3" fill="#000"/>
<text x="451.8" y="581" font-size="10" fill="#000" stroke="#000" stroke-width="0.25" textLength="53.8" lengthAdjust="spacingAndGlyphs">22 Nov 2021</text>
<rect x="517" y="569" width="1" height="3" fill="#000"/>
<text x="515.5" y="581" font-size="10" fill="#000" stroke="#000" stroke-width="0.25" textLength="52.099999999999994" lengthAdjust="spacingAndGlyphs">10 Dec 2021</text>
<rect x="581" y="569" width="1" height="3" fill="#000"/>
<text x="579.4" y="581" font-size="10" fill="#000" stroke="#000" stroke-width="0.25" textLength="52.199999999999996" lengthAdjust="spacingAndGlyphs">29 Dec 2021</text>
<rect x="645" y="569" width="1" height="3" fill="#000"/>
<text x="643.7" y="581" font-size="10" fill="#000" stroke="#000" stroke-width="0.25" textLength="49.8" lengthAdjust="spacingAndGlyphs">17 Jan 2022</text>
<rect x="709" y="569" width="1" height="3" fill="#000"/>
<text x="707.6" y="581" font-size="10" fill="#000" stroke="#000" stroke-width="0.25" textLength="47.3" lengthAdjust="spacingAndGlyphs">4 Feb 2022</text>
<rect x="773" y="569" width="1" height="3" fill="#000"/>
<text x="772.6" y="581" font-size="10" fill="#000" stroke="#000" stroke-width="0.25" textLength="51.5" lengthAdjust="spacingAndGlyphs">23 Feb 2022</text>
<rect x="837" y="569" width="1" height="3" fill="#000"/>
<text x="836.3000000000001" y="581" font-size="10" fill="#000" stroke="#000" stroke-width="0.25" textLength="51.8" lengthAdjust="spacingAndGlyphs">14 Mar 2022</text>
<rect x="901" y="569" width="1" height="3" fill="#000"/>
<text x="900.3000000000001" y="581" font-size="10" fill="#000" stroke="#000" stroke-width="0.25" textLength="45.3" lengthAdjust="spacingAndGlyphs">1 Apr 2022</text>
<polygon points="8,33 15,33 11.5,37" fill="#000"/>
<text x="20.2" y="37.8" font-size="9" fill="#000" stroke="#000" stroke-width="0.3" textLength="68" lengthAdjust="spacingAndGlyphs">USDCAD-,Daily</text>
<text x="95.6" y="37.8" font-size="9" fill="#000" stroke="#000" stroke-width="0.3" textLength="140.2" lengthAdjust="spacingAndGlyphs">1.25862 1.26180 1.25647 1.25672</text>
<text x="9.4" y="432.7" font-size="9" fill="#000" stroke="#000" stroke-width="0.3" textLength="153.5" lengthAdjust="spacingAndGlyphs">MACD(12,26,9) -0.003547 -0.005393</text>
<text x="9.2" y="506.7" font-size="9" fill="#000" stroke="#000" stroke-width="0.3" textLength="67.6" lengthAdjust="spacingAndGlyphs">RSI(14) 48.5243</text>
<text x="0.4" y="12.9" font-size="10" fill="#000" stroke="#000" stroke-width="0.15">5</text>
<text transform="translate(16.4 13.8) scale(0.87 1)" font-size="10.4" fill="#3c3c3c">M30</text>
<text transform="translate(47.4 13.8) scale(0.87 1)" font-size="10.4" fill="#3c3c3c">H1</text>
<text transform="translate(74.8 13.8) scale(0.87 1)" font-size="10.4" fill="#3c3c3c">H4</text>
<text transform="translate(103.5 13.8) scale(0.87 1)" font-size="10.4" fill="#3c3c3c">D1</text>
<text transform="translate(130.6 13.8) scale(0.87 1)" font-size="10.4" fill="#3c3c3c">W1</text>
<text transform="translate(157.3 13.8) scale(0.87 1)" font-size="10.4" fill="#3c3c3c">MN</text>
</g>
<rect x="0" y="591" width="1207" height="1" fill="#000"/>
<rect x="0" y="592" width="1207" height="1" fill="#ffffff"/>
<rect x="0" y="593" width="1207" height="18" fill="#f0f0f0"/>
<rect x="0" y="611" width="1207" height="1" fill="#ffffff"/>
<rect x="0" y="612" width="1207" height="2" fill="#f0f0f0"/>
<rect x="0" y="592" width="2" height="19" fill="#a0a0a0"/>
<rect x="430" y="591" width="108" height="19" fill="#ffffff"/>
<rect x="430" y="591" width="1" height="19" fill="#000"/>
<rect x="537" y="591" width="1" height="19" fill="#000"/>
<rect x="430" y="609" width="108" height="1" fill="#000"/>
<g font-family="Liberation Sans, sans-serif">
<text x="17.4" y="605.7" font-size="12" fill="#6e6e78" textLength="77.6" lengthAdjust="spacingAndGlyphs">USDX,Weekly</text>
<text x="117.3" y="605.7" font-size="12" fill="#6e6e78" textLength="84.5" lengthAdjust="spacingAndGlyphs">EURUSD-,Daily</text>
<text x="224.2" y="605.7" font-size="12" fill="#6e6e78" textLength="87.3" lengthAdjust="spacingAndGlyphs">AUDUSD-,Daily</text>
<text x="334" y="605.7" font-size="12" fill="#6e6e78" textLength="83.5" lengthAdjust="spacingAndGlyphs">USDCHF-,Daily</text>
<text x="550" y="605.7" font-size="12" fill="#6e6e78" textLength="88" lengthAdjust="spacingAndGlyphs">USDCNH-,Daily</text>
<text x="660.9" y="605.7" font-size="12" fill="#6e6e78" textLength="85.8" lengthAdjust="spacingAndGlyphs">XAUUSD-,Daily</text>
<text x="769.5" y="605.7" font-size="12" fill="#6e6e78" textLength="68.4" lengthAdjust="spacingAndGlyphs">UKOil-,Daily</text>
<text x="862" y="605.7" font-size="12" fill="#6e6e78" textLength="64.5" lengthAdjust="spacingAndGlyphs">DJ30-,Daily</text>
<text x="949" y="605.7" font-size="12" fill="#6e6e78" textLength="61.6" lengthAdjust="spacingAndGlyphs">UK100-,H1</text>
<text x="1034.3" y="605.7" font-size="12" fill="#6e6e78" textLength="55.2" lengthAdjust="spacingAndGlyphs">USOil-,H1</text>
<text x="1112.4" y="605.7" font-size="12" fill="#6e6e78" textLength="53.9" lengthAdjust="spacingAndGlyphs">HK50-,H1</text>
<text x="441.3" y="605.7" font-size="12" fill="#000" textLength="85.3" lengthAdjust="spacingAndGlyphs">USDCAD-,Daily</text>
</g>
<rect x="106" y="595" width="1" height="12" fill="#808080"/>
<rect x="214" y="595" width="1" height="12" fill="#808080"/>
<rect x="322" y="595" width="1" height="12" fill="#808080"/>
<rect x="650" y="595" width="1" height="12" fill="#808080"/>
<rect x="758" y="595" width="1" height="12" fill="#808080"/>
<rect x="850" y="595" width="1" height="12" fill="#808080"/>
<rect x="938" y="595" width="1" height="12" fill="#808080"/>
<rect x="1022" y="595" width="1" height="12" fill="#808080"/>
<rect x="1102" y="595" width="1" height="12" fill="#808080"/>
<polygon points="1183,600 1186,597 1186,603" fill="#a0a0a0"/>
<polygon points="1202,597 1202,603 1205,600" fill="#000"/>
</svg>
</body></html>
